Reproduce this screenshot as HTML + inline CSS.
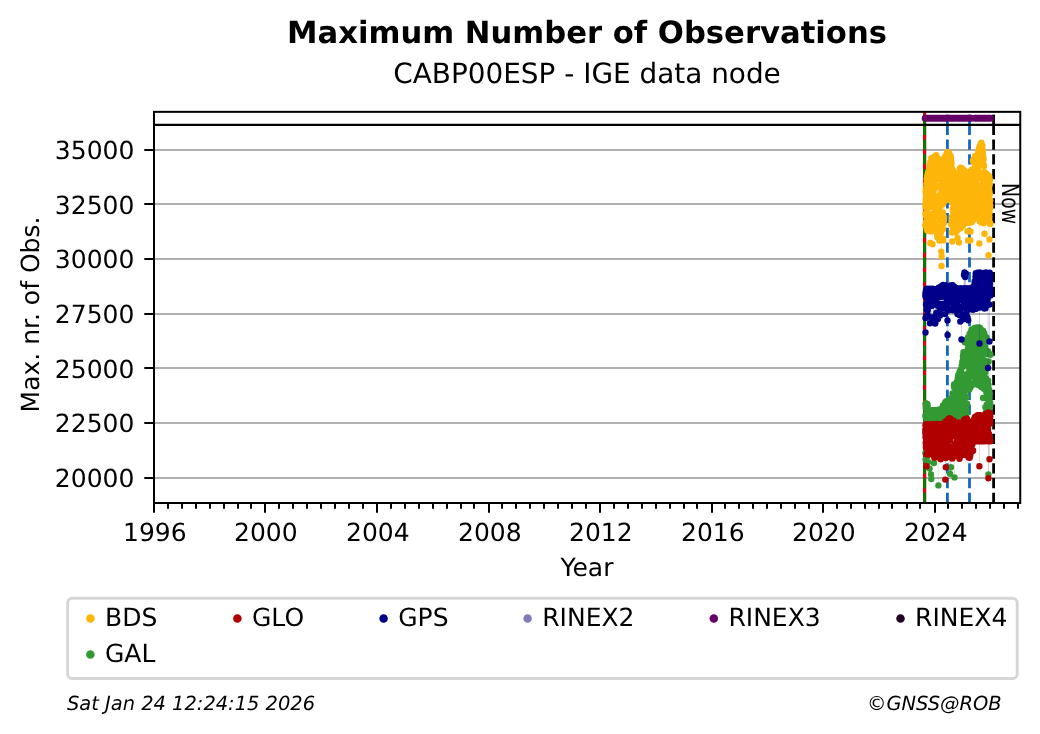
<!DOCTYPE html>
<html lang="en"><head><meta charset="utf-8"><title>Maximum Number of Observations</title>
<style>html,body{margin:0;padding:0;background:#fff}svg{display:block;will-change:transform;text-rendering:geometricPrecision}</style></head>
<body>
<svg width="1040" height="734" viewBox="0 0 1040 734" font-family='"DejaVu Sans","Liberation Sans",sans-serif'>
<rect width="1040" height="734" fill="#fff"/>
<path d="M154.0 150H1020.25M154.0 204H1020.25M154.0 259H1020.25M154.0 314H1020.25M154.0 368H1020.25M154.0 423H1020.25M154.0 478H1020.25" stroke="#b0b0b0" stroke-width="2" fill="none"/>
<path d="M924.6 503.0V124.9" stroke="#e2000f" stroke-width="3.3"  fill="none"/>
<path d="M924.6 124.9V111.85" stroke="#e2000f" stroke-width="3.3"  fill="none"/>
<path d="M924.6 503.0V124.9" stroke="#008000" stroke-width="2.78" stroke-dasharray="10.28 4.44" fill="none"/>
<path d="M924.6 124.9V111.85" stroke="#008000" stroke-width="2.78" stroke-dasharray="10.28 4.44" fill="none"/>
<path d="M947.4 503.0V124.9" stroke="#1266c0" stroke-width="2.78" stroke-dasharray="10.28 4.44" fill="none"/>
<path d="M947.4 124.9V111.85" stroke="#1266c0" stroke-width="2.78" stroke-dasharray="10.28 4.44" fill="none"/>
<path d="M969.5 503.0V124.9" stroke="#1266c0" stroke-width="2.78" stroke-dasharray="10.28 4.44" fill="none"/>
<path d="M969.5 124.9V111.85" stroke="#1266c0" stroke-width="2.78" stroke-dasharray="10.28 4.44" fill="none"/>
<path d="M993.6 503.0V124.9" stroke="#000" stroke-width="2.78" stroke-dasharray="10.28 4.44" fill="none"/>
<path d="M993.6 124.9V111.85" stroke="#000" stroke-width="2.78" stroke-dasharray="10.28 4.44" fill="none"/>
<path d="M925.3 225.5L925.4 206.6L925.5 206.3L925.5 213.9L925.6 191.2L925.7 200.4L925.8 203.3L925.8 188.4L925.9 216.0L926.0 221.7L926.1 194.0L926.1 196.2L926.2 214.0L926.3 199.4L926.4 195.0L926.4 183.8L926.5 204.5L926.6 205.8L926.7 210.2L926.8 179.4L926.8 229.4L926.9 214.9L927.0 193.2L927.1 230.3L927.1 215.2L927.2 176.1L927.3 177.2L927.4 175.8L927.4 207.6L927.5 188.6L927.6 174.7L927.7 221.5L927.7 175.9L927.8 201.4L927.9 173.7L928.0 175.1L928.1 172.6L928.1 224.9L928.2 230.0L928.3 206.0L928.4 223.6L928.4 199.5L928.5 215.0L928.6 177.4L928.7 170.8L928.7 170.9L928.8 184.2L928.9 230.6L929.0 222.9L929.0 186.0L929.1 231.0L929.2 219.6L929.3 205.8L929.3 206.2L929.4 192.7L929.5 182.2L929.6 165.3L929.7 194.6L929.7 189.9L929.8 228.2L929.9 191.9L930.0 164.0L930.0 168.8L930.1 228.9L930.2 194.4L930.3 243.0L930.3 162.1L930.4 163.0L930.5 165.0L930.6 163.6L930.6 226.2L930.7 192.3L930.8 195.3L930.9 229.4L931.0 231.4L931.0 204.4L931.1 206.8L931.2 220.3L931.3 192.0L931.3 158.3L931.4 194.1L931.5 221.4L931.6 214.3L931.6 162.7L931.7 172.9L931.8 162.6L931.9 169.1L931.9 225.5L932.0 227.0L932.1 227.0L932.2 219.6L932.3 220.3L932.3 198.3L932.4 187.9L932.5 244.3L932.6 177.6L932.6 227.5L932.7 223.8L932.8 191.6L932.9 170.8L932.9 158.9L933.0 189.7L933.1 202.3L933.2 159.9L933.2 190.3L933.3 166.8L933.4 225.7L933.5 206.5L933.6 226.4L933.6 190.7L933.7 176.9L933.8 195.2L933.9 223.0L933.9 217.7L934.0 158.4L934.1 182.5L934.2 186.2L934.2 170.2L934.3 158.8L934.4 227.3L934.5 156.5L934.5 157.3L934.6 201.4L934.7 196.1L934.8 186.4L934.9 214.4L934.9 212.7L935.0 208.1L935.1 223.7L935.2 209.6L935.2 170.0L935.3 167.8L935.4 161.8L935.5 186.8L935.5 158.8L935.6 158.2L935.7 165.3L935.8 155.6L935.8 156.1L935.9 172.8L936.0 157.0L936.1 196.5L936.1 169.0L936.2 155.2L936.3 156.2L936.4 156.7L936.5 165.3L936.5 157.5L936.6 165.4L936.7 158.3L936.8 168.7L936.8 157.6L936.9 159.2L937.0 208.9L937.1 232.8L937.1 234.6L937.2 158.8L937.3 211.0L937.4 236.9L937.4 237.3L937.5 169.7L937.6 203.0L937.7 236.9L937.8 160.3L937.8 200.9L937.9 235.1L938.0 177.3L938.1 213.0L938.1 161.1L938.2 158.6L938.3 158.8L938.4 186.2L938.4 187.0L938.5 229.2L938.6 165.7L938.7 179.2L938.7 228.1L938.8 226.9L938.9 163.7L939.0 209.3L939.1 178.6L939.1 206.7L939.2 211.4L939.3 240.6L939.4 216.9L939.4 163.6L939.5 163.9L939.6 203.1L939.7 187.4L939.7 235.0L939.8 220.3L939.9 173.9L940.0 230.7L940.0 175.7L940.1 167.4L940.2 238.0L940.3 167.0L940.4 205.4L940.4 233.2L940.5 215.7L940.6 168.1L940.7 219.7L940.7 169.8L940.8 167.6L940.9 167.9L941.0 219.2L941.0 216.9L941.1 232.3L941.2 193.8L941.3 251.7L941.3 172.4L941.4 176.3L941.5 266.0L941.6 256.3L941.7 216.6L941.7 185.1L941.8 176.5L941.9 195.2L942.0 192.9L942.0 220.5L942.1 214.4L942.2 238.5L942.3 214.7L942.3 198.5L942.4 176.5L942.5 192.9L942.6 223.5L942.6 184.3L942.7 194.9L942.8 224.7L942.9 204.1L943.0 182.6L943.0 229.0L943.1 212.8L943.2 218.1L943.3 240.4L943.3 238.6L943.4 201.8L943.5 176.4L943.6 201.6L943.6 191.2L943.7 163.3L943.8 223.1L943.9 202.2L943.9 219.7L944.0 162.0L944.1 217.2L944.2 175.1L944.2 176.5L944.3 158.3L944.4 163.3L944.5 166.6L944.6 168.4L944.6 183.3L944.7 179.1L944.8 196.0L944.9 171.1L944.9 157.2L945.0 166.8L945.1 186.8L945.2 199.4L945.2 198.7L945.3 156.1L945.4 172.9L945.5 199.0L945.5 185.7L945.6 164.6L945.7 178.6L945.8 162.7L945.9 185.8L945.9 176.9L946.0 198.7L946.1 194.2L946.2 162.3L946.2 184.8L946.3 196.5L946.4 166.9L946.5 160.7L946.5 155.9L946.6 177.2L946.7 159.6L946.8 154.2L946.8 153.1L946.9 154.0L947.0 155.0L947.1 174.0L947.2 184.9L947.2 152.0L947.3 152.2L947.4 182.7L947.5 187.7L947.5 176.6L947.6 199.8L947.7 159.0L947.8 158.3L947.8 192.6L947.9 199.8L948.0 188.3L948.1 199.9L948.1 171.8L948.2 181.0L948.3 170.9L948.4 155.5L948.5 167.2L948.5 192.9L948.6 175.9L948.7 172.1L948.8 199.2L948.8 153.8L948.9 153.3L949.0 154.0L949.1 153.3L949.1 193.3L949.2 187.2L949.3 157.1L949.4 154.7L949.4 198.0L949.5 178.0L949.6 157.2L949.7 176.1L949.8 189.4L949.8 184.1L949.9 156.3L950.0 157.1L950.1 178.5L950.1 174.2L950.2 155.6L950.3 189.8L950.4 195.2L950.4 175.8L950.5 168.7L950.6 178.5L950.7 160.3L950.7 156.2L950.8 172.0L950.9 158.0L951.0 178.3L951.0 158.6L951.1 167.8L951.2 176.5L951.3 224.8L951.4 170.8L951.4 162.2L951.5 163.7L951.6 163.6L951.7 167.9L951.7 198.0L951.8 221.1L951.9 232.5L952.0 189.1L952.0 232.6L952.1 232.4L952.2 216.5L952.3 241.5L952.3 173.1L952.4 191.4L952.5 171.2L952.6 176.1L952.7 183.6L952.7 169.9L952.8 208.8L952.9 228.7L953.0 192.0L953.0 203.4L953.1 178.3L953.2 172.9L953.3 190.7L953.3 212.6L953.4 184.2L953.5 172.6L953.6 194.3L953.6 173.2L953.7 186.7L953.8 231.8L953.9 213.7L954.0 174.7L954.0 174.8L954.1 218.2L954.2 204.6L954.3 217.0L954.3 228.7L954.4 208.2L954.5 192.6L954.6 175.8L954.6 177.4L954.7 178.1L954.8 177.0L954.9 187.6L954.9 208.7L955.0 199.1L955.1 205.0L955.2 223.4L955.3 182.9L955.3 187.2L955.4 178.6L955.5 214.2L955.6 206.5L955.6 216.8L955.7 231.7L955.8 232.2L955.9 213.8L955.9 225.4L956.0 182.7L956.1 205.1L956.2 207.4L956.2 182.1L956.3 224.7L956.4 191.4L956.5 217.8L956.6 196.5L956.6 225.6L956.7 230.9L956.8 193.1L956.9 181.7L956.9 185.8L957.0 219.9L957.1 197.1L957.2 183.8L957.2 209.9L957.3 179.3L957.4 180.8L957.5 238.0L957.5 193.4L957.6 178.5L957.7 178.8L957.8 179.0L957.8 176.5L957.9 184.5L958.0 176.3L958.1 181.0L958.2 175.5L958.2 217.7L958.3 201.3L958.4 215.0L958.5 217.4L958.5 179.8L958.6 209.9L958.7 212.0L958.8 211.5L958.8 189.0L958.9 181.5L959.0 242.5L959.1 227.7L959.1 192.7L959.2 211.9L959.3 189.1L959.4 217.7L959.5 215.8L959.5 228.7L959.6 170.6L959.7 169.4L959.8 170.1L959.8 178.0L959.9 168.3L960.0 168.2L960.1 207.6L960.1 228.6L960.2 168.5L960.3 168.9L960.4 194.6L960.4 194.2L960.5 182.6L960.6 167.8L960.7 169.6L960.8 203.7L960.8 225.5L960.9 207.8L961.0 171.8L961.1 189.5L961.1 184.3L961.2 207.9L961.3 201.5L961.4 175.8L961.4 193.9L961.5 167.9L961.6 207.8L961.7 226.9L961.7 169.7L961.8 199.0L961.9 169.7L962.0 216.2L962.1 223.5L962.1 196.5L962.2 221.2L962.3 189.0L962.4 172.8L962.4 170.5L962.5 181.4L962.6 179.6L962.7 193.7L962.7 174.9L962.8 210.2L962.9 223.4L963.0 188.7L963.0 169.1L963.1 201.6L963.2 223.6L963.3 199.2L963.4 171.5L963.4 190.0L963.5 225.0L963.6 170.7L963.7 194.7L963.7 184.3L963.8 170.9L963.9 199.7L964.0 171.8L964.0 191.2L964.1 223.9L964.2 209.3L964.3 174.0L964.3 172.2L964.4 172.5L964.5 172.1L964.6 216.4L964.7 194.0L964.7 171.3L964.8 172.5L964.9 171.3L965.0 172.8L965.0 171.5L965.1 222.1L965.2 183.3L965.3 172.0L965.3 195.1L965.4 221.6L965.5 223.1L965.6 195.3L965.6 201.5L965.7 200.5L965.8 209.9L965.9 205.9L965.9 174.3L966.0 174.2L966.1 187.2L966.2 174.3L966.3 217.7L966.3 203.6L966.4 174.0L966.5 179.8L966.6 178.0L966.6 186.3L966.7 215.3L966.8 176.8L966.9 176.4L966.9 186.9L967.0 188.4L967.1 197.7L967.2 207.4L967.2 194.7L967.3 214.4L967.4 180.1L967.5 231.3L967.6 176.1L967.6 177.2L967.7 201.1L967.8 211.2L967.9 179.8L967.9 176.6L968.0 240.5L968.1 218.3L968.2 187.3L968.2 189.1L968.3 176.9L968.4 222.8L968.5 219.6L968.5 221.4L968.6 218.6L968.7 221.6L968.8 217.9L968.9 195.6L968.9 213.5L969.0 204.0L969.1 220.1L969.2 188.9L969.2 181.9L969.3 208.0L969.4 218.6L969.5 210.2L969.5 184.1L969.6 190.0L969.7 183.3L969.8 220.4L969.8 221.2L969.9 222.3L970.0 215.0L970.1 189.5L970.2 219.4L970.2 220.6L970.3 240.5L970.4 204.7L970.5 220.7L970.5 231.5L970.6 213.6L970.7 183.2L970.8 174.7L970.8 200.8L970.9 205.0L971.0 222.5L971.1 202.5L971.1 196.6L971.2 170.7L971.3 170.8L971.4 171.5L971.5 184.0L971.5 169.9L971.6 211.8L971.7 219.9L971.8 196.9L971.8 221.9L971.9 211.3L972.0 218.6L972.1 195.2L972.1 217.0L972.2 170.1L972.3 202.3L972.4 178.3L972.4 181.1L972.5 205.8L972.6 199.0L972.7 188.7L972.7 210.2L972.8 216.8L972.9 160.8L973.0 194.8L973.1 210.0L973.1 169.3L973.2 194.2L973.3 160.5L973.4 217.4L973.4 189.0L973.5 184.3L973.6 219.7L973.7 193.3L973.7 207.5L973.8 159.2L973.9 159.7L974.0 159.1L974.0 162.7L974.1 210.9L974.2 200.4L974.3 214.7L974.4 161.5L974.4 158.4L974.5 159.1L974.6 194.2L974.7 197.6L974.7 186.6L974.8 202.6L974.9 183.5L975.0 181.4L975.0 214.6L975.1 156.0L975.2 184.8L975.3 211.6L975.3 198.0L975.4 204.5L975.5 169.8L975.6 210.5L975.7 156.1L975.7 157.1L975.8 159.9L975.9 209.2L976.0 199.8L976.0 178.4L976.1 156.3L976.2 179.2L976.3 183.2L976.3 161.1L976.4 159.3L976.5 156.4L976.6 171.9L976.6 187.0L976.7 184.3L976.8 176.7L976.9 156.2L977.0 165.6L977.0 157.4L977.1 170.3L977.2 190.8L977.3 162.7L977.3 157.3L977.4 197.8L977.5 195.2L977.6 164.2L977.6 154.7L977.7 155.4L977.8 188.7L977.9 210.1L977.9 167.9L978.0 155.4L978.1 157.1L978.2 197.2L978.3 152.0L978.3 163.7L978.4 151.5L978.5 175.1L978.6 150.4L978.6 173.6L978.7 159.3L978.8 163.9L978.9 192.0L978.9 215.1L979.0 148.8L979.1 199.9L979.2 204.5L979.2 175.5L979.3 243.5L979.4 201.7L979.5 218.7L979.5 172.7L979.6 146.5L979.7 213.2L979.8 218.6L979.9 220.7L979.9 221.4L980.0 174.6L980.1 149.7L980.2 152.9L980.2 221.7L980.3 145.1L980.4 146.4L980.5 145.8L980.5 155.2L980.6 150.5L980.7 143.8L980.8 148.8L980.8 217.5L980.9 187.8L981.0 145.5L981.1 143.9L981.2 151.8L981.2 177.9L981.3 142.7L981.4 209.7L981.5 217.9L981.5 163.4L981.6 148.0L981.7 201.8L981.8 191.5L981.8 193.2L981.9 148.6L982.0 152.0L982.1 148.5L982.1 148.6L982.2 145.4L982.3 178.9L982.4 223.0L982.5 189.4L982.5 145.8L982.6 222.4L982.7 206.2L982.8 177.3L982.8 154.0L982.9 150.5L983.0 218.0L983.1 183.1L983.1 161.1L983.2 156.6L983.3 223.2L983.4 175.2L983.4 204.0L983.5 199.6L983.6 197.8L983.7 159.1L983.8 201.1L983.8 222.0L983.9 203.5L984.0 165.2L984.1 166.1L984.1 182.6L984.2 181.4L984.3 186.7L984.4 192.4L984.4 172.3L984.5 233.8L984.6 203.8L984.7 195.3L984.7 201.3L984.8 219.2L984.9 204.5L985.0 175.3L985.1 218.2L985.1 190.6L985.2 174.9L985.3 172.9L985.4 180.6L985.4 174.0L985.5 172.9L985.6 200.2L985.7 197.5L985.7 220.0L985.8 211.4L985.9 189.1L986.0 184.4L986.0 178.8L986.1 207.6L986.2 199.6L986.3 185.4L986.4 214.1L986.4 204.0L986.5 185.4L986.6 174.0L986.7 194.1L986.7 201.6L986.8 198.7L986.9 184.9L987.0 174.3L987.0 182.1L987.1 197.7L987.2 192.8L987.3 190.9L987.3 182.1L987.4 200.7L987.5 203.5L987.6 178.9L987.6 210.3L987.7 218.6L987.8 220.9L987.9 201.3L988.0 192.4L988.0 176.8L988.1 206.4L988.2 177.1L988.3 176.5L988.3 180.1L988.4 212.8L988.5 255.3L988.6 175.8L988.6 176.2L988.7 175.6L988.8 189.4L988.9 195.7L988.9 191.1L989.0 178.6L989.1 185.7L989.2 217.0L989.3 177.5L989.3 191.6L989.4 222.7L989.5 239.4L989.6 193.9L989.6 212.3L989.7 184.5L989.8 194.0L989.9 223.8L989.9 222.7L990.0 180.1L990.1 208.0L990.2 223.3L990.2 200.7L990.3 205.7L990.4 223.8" stroke="#fdb50a" stroke-width="0.7" stroke-opacity="0.13" fill="none"/>
<path d="M925.3 225.5h0M925.4 206.6h0M925.5 206.3h0M925.5 213.9h0M925.6 191.2h0M925.7 200.4h0M925.8 203.3h0M925.8 188.4h0M925.9 216.0h0M926.0 221.7h0M926.1 194.0h0M926.1 196.2h0M926.2 214.0h0M926.3 199.4h0M926.4 195.0h0M926.4 183.8h0M926.5 204.5h0M926.6 205.8h0M926.7 210.2h0M926.8 179.4h0M926.8 229.4h0M926.9 214.9h0M927.0 193.2h0M927.1 230.3h0M927.1 215.2h0M927.2 176.1h0M927.3 177.2h0M927.4 175.8h0M927.4 207.6h0M927.5 188.6h0M927.6 174.7h0M927.7 221.5h0M927.7 175.9h0M927.8 201.4h0M927.9 173.7h0M928.0 175.1h0M928.1 172.6h0M928.1 224.9h0M928.2 230.0h0M928.3 206.0h0M928.4 223.6h0M928.4 199.5h0M928.5 215.0h0M928.6 177.4h0M928.7 170.8h0M928.7 170.9h0M928.8 184.2h0M928.9 230.6h0M929.0 222.9h0M929.0 186.0h0M929.1 231.0h0M929.2 219.6h0M929.3 205.8h0M929.3 206.2h0M929.4 192.7h0M929.5 182.2h0M929.6 165.3h0M929.7 194.6h0M929.7 189.9h0M929.8 228.2h0M929.9 191.9h0M930.0 164.0h0M930.0 168.8h0M930.1 228.9h0M930.2 194.4h0M930.3 243.0h0M930.3 162.1h0M930.4 163.0h0M930.5 165.0h0M930.6 163.6h0M930.6 226.2h0M930.7 192.3h0M930.8 195.3h0M930.9 229.4h0M931.0 231.4h0M931.0 204.4h0M931.1 206.8h0M931.2 220.3h0M931.3 192.0h0M931.3 158.3h0M931.4 194.1h0M931.5 221.4h0M931.6 214.3h0M931.6 162.7h0M931.7 172.9h0M931.8 162.6h0M931.9 169.1h0M931.9 225.5h0M932.0 227.0h0M932.1 227.0h0M932.2 219.6h0M932.3 220.3h0M932.3 198.3h0M932.4 187.9h0M932.5 244.3h0M932.6 177.6h0M932.6 227.5h0M932.7 223.8h0M932.8 191.6h0M932.9 170.8h0M932.9 158.9h0M933.0 189.7h0M933.1 202.3h0M933.2 159.9h0M933.2 190.3h0M933.3 166.8h0M933.4 225.7h0M933.5 206.5h0M933.6 226.4h0M933.6 190.7h0M933.7 176.9h0M933.8 195.2h0M933.9 223.0h0M933.9 217.7h0M934.0 158.4h0M934.1 182.5h0M934.2 186.2h0M934.2 170.2h0M934.3 158.8h0M934.4 227.3h0M934.5 156.5h0M934.5 157.3h0M934.6 201.4h0M934.7 196.1h0M934.8 186.4h0M934.9 214.4h0M934.9 212.7h0M935.0 208.1h0M935.1 223.7h0M935.2 209.6h0M935.2 170.0h0M935.3 167.8h0M935.4 161.8h0M935.5 186.8h0M935.5 158.8h0M935.6 158.2h0M935.7 165.3h0M935.8 155.6h0M935.8 156.1h0M935.9 172.8h0M936.0 157.0h0M936.1 196.5h0M936.1 169.0h0M936.2 155.2h0M936.3 156.2h0M936.4 156.7h0M936.5 165.3h0M936.5 157.5h0M936.6 165.4h0M936.7 158.3h0M936.8 168.7h0M936.8 157.6h0M936.9 159.2h0M937.0 208.9h0M937.1 232.8h0M937.1 234.6h0M937.2 158.8h0M937.3 211.0h0M937.4 236.9h0M937.4 237.3h0M937.5 169.7h0M937.6 203.0h0M937.7 236.9h0M937.8 160.3h0M937.8 200.9h0M937.9 235.1h0M938.0 177.3h0M938.1 213.0h0M938.1 161.1h0M938.2 158.6h0M938.3 158.8h0M938.4 186.2h0M938.4 187.0h0M938.5 229.2h0M938.6 165.7h0M938.7 179.2h0M938.7 228.1h0M938.8 226.9h0M938.9 163.7h0M939.0 209.3h0M939.1 178.6h0M939.1 206.7h0M939.2 211.4h0M939.3 240.6h0M939.4 216.9h0M939.4 163.6h0M939.5 163.9h0M939.6 203.1h0M939.7 187.4h0M939.7 235.0h0M939.8 220.3h0M939.9 173.9h0M940.0 230.7h0M940.0 175.7h0M940.1 167.4h0M940.2 238.0h0M940.3 167.0h0M940.4 205.4h0M940.4 233.2h0M940.5 215.7h0M940.6 168.1h0M940.7 219.7h0M940.7 169.8h0M940.8 167.6h0M940.9 167.9h0M941.0 219.2h0M941.0 216.9h0M941.1 232.3h0M941.2 193.8h0M941.3 251.7h0M941.3 172.4h0M941.4 176.3h0M941.5 266.0h0M941.6 256.3h0M941.7 216.6h0M941.7 185.1h0M941.8 176.5h0M941.9 195.2h0M942.0 192.9h0M942.0 220.5h0M942.1 214.4h0M942.2 238.5h0M942.3 214.7h0M942.3 198.5h0M942.4 176.5h0M942.5 192.9h0M942.6 223.5h0M942.6 184.3h0M942.7 194.9h0M942.8 224.7h0M942.9 204.1h0M943.0 182.6h0M943.0 229.0h0M943.1 212.8h0M943.2 218.1h0M943.3 240.4h0M943.3 238.6h0M943.4 201.8h0M943.5 176.4h0M943.6 201.6h0M943.6 191.2h0M943.7 163.3h0M943.8 223.1h0M943.9 202.2h0M943.9 219.7h0M944.0 162.0h0M944.1 217.2h0M944.2 175.1h0M944.2 176.5h0M944.3 158.3h0M944.4 163.3h0M944.5 166.6h0M944.6 168.4h0M944.6 183.3h0M944.7 179.1h0M944.8 196.0h0M944.9 171.1h0M944.9 157.2h0M945.0 166.8h0M945.1 186.8h0M945.2 199.4h0M945.2 198.7h0M945.3 156.1h0M945.4 172.9h0M945.5 199.0h0M945.5 185.7h0M945.6 164.6h0M945.7 178.6h0M945.8 162.7h0M945.9 185.8h0M945.9 176.9h0M946.0 198.7h0M946.1 194.2h0M946.2 162.3h0M946.2 184.8h0M946.3 196.5h0M946.4 166.9h0M946.5 160.7h0M946.5 155.9h0M946.6 177.2h0M946.7 159.6h0M946.8 154.2h0M946.8 153.1h0M946.9 154.0h0M947.0 155.0h0M947.1 174.0h0M947.2 184.9h0M947.2 152.0h0M947.3 152.2h0M947.4 182.7h0M947.5 187.7h0M947.5 176.6h0M947.6 199.8h0M947.7 159.0h0M947.8 158.3h0M947.8 192.6h0M947.9 199.8h0M948.0 188.3h0M948.1 199.9h0M948.1 171.8h0M948.2 181.0h0M948.3 170.9h0M948.4 155.5h0M948.5 167.2h0M948.5 192.9h0M948.6 175.9h0M948.7 172.1h0M948.8 199.2h0M948.8 153.8h0M948.9 153.3h0M949.0 154.0h0M949.1 153.3h0M949.1 193.3h0M949.2 187.2h0M949.3 157.1h0M949.4 154.7h0M949.4 198.0h0M949.5 178.0h0M949.6 157.2h0M949.7 176.1h0M949.8 189.4h0M949.8 184.1h0M949.9 156.3h0M950.0 157.1h0M950.1 178.5h0M950.1 174.2h0M950.2 155.6h0M950.3 189.8h0M950.4 195.2h0M950.4 175.8h0M950.5 168.7h0M950.6 178.5h0M950.7 160.3h0M950.7 156.2h0M950.8 172.0h0M950.9 158.0h0M951.0 178.3h0M951.0 158.6h0M951.1 167.8h0M951.2 176.5h0M951.3 224.8h0M951.4 170.8h0M951.4 162.2h0M951.5 163.7h0M951.6 163.6h0M951.7 167.9h0M951.7 198.0h0M951.8 221.1h0M951.9 232.5h0M952.0 189.1h0M952.0 232.6h0M952.1 232.4h0M952.2 216.5h0M952.3 241.5h0M952.3 173.1h0M952.4 191.4h0M952.5 171.2h0M952.6 176.1h0M952.7 183.6h0M952.7 169.9h0M952.8 208.8h0M952.9 228.7h0M953.0 192.0h0M953.0 203.4h0M953.1 178.3h0M953.2 172.9h0M953.3 190.7h0M953.3 212.6h0M953.4 184.2h0M953.5 172.6h0M953.6 194.3h0M953.6 173.2h0M953.7 186.7h0M953.8 231.8h0M953.9 213.7h0M954.0 174.7h0M954.0 174.8h0M954.1 218.2h0M954.2 204.6h0M954.3 217.0h0M954.3 228.7h0M954.4 208.2h0M954.5 192.6h0M954.6 175.8h0M954.6 177.4h0M954.7 178.1h0M954.8 177.0h0M954.9 187.6h0M954.9 208.7h0M955.0 199.1h0M955.1 205.0h0M955.2 223.4h0M955.3 182.9h0M955.3 187.2h0M955.4 178.6h0M955.5 214.2h0M955.6 206.5h0M955.6 216.8h0M955.7 231.7h0M955.8 232.2h0M955.9 213.8h0M955.9 225.4h0M956.0 182.7h0M956.1 205.1h0M956.2 207.4h0M956.2 182.1h0M956.3 224.7h0M956.4 191.4h0M956.5 217.8h0M956.6 196.5h0M956.6 225.6h0M956.7 230.9h0M956.8 193.1h0M956.9 181.7h0M956.9 185.8h0M957.0 219.9h0M957.1 197.1h0M957.2 183.8h0M957.2 209.9h0M957.3 179.3h0M957.4 180.8h0M957.5 238.0h0M957.5 193.4h0M957.6 178.5h0M957.7 178.8h0M957.8 179.0h0M957.8 176.5h0M957.9 184.5h0M958.0 176.3h0M958.1 181.0h0M958.2 175.5h0M958.2 217.7h0M958.3 201.3h0M958.4 215.0h0M958.5 217.4h0M958.5 179.8h0M958.6 209.9h0M958.7 212.0h0M958.8 211.5h0M958.8 189.0h0M958.9 181.5h0M959.0 242.5h0M959.1 227.7h0M959.1 192.7h0M959.2 211.9h0M959.3 189.1h0M959.4 217.7h0M959.5 215.8h0M959.5 228.7h0M959.6 170.6h0M959.7 169.4h0M959.8 170.1h0M959.8 178.0h0M959.9 168.3h0M960.0 168.2h0M960.1 207.6h0M960.1 228.6h0M960.2 168.5h0M960.3 168.9h0M960.4 194.6h0M960.4 194.2h0M960.5 182.6h0M960.6 167.8h0M960.7 169.6h0M960.8 203.7h0M960.8 225.5h0M960.9 207.8h0M961.0 171.8h0M961.1 189.5h0M961.1 184.3h0M961.2 207.9h0M961.3 201.5h0M961.4 175.8h0M961.4 193.9h0M961.5 167.9h0M961.6 207.8h0M961.7 226.9h0M961.7 169.7h0M961.8 199.0h0M961.9 169.7h0M962.0 216.2h0M962.1 223.5h0M962.1 196.5h0M962.2 221.2h0M962.3 189.0h0M962.4 172.8h0M962.4 170.5h0M962.5 181.4h0M962.6 179.6h0M962.7 193.7h0M962.7 174.9h0M962.8 210.2h0M962.9 223.4h0M963.0 188.7h0M963.0 169.1h0M963.1 201.6h0M963.2 223.6h0M963.3 199.2h0M963.4 171.5h0M963.4 190.0h0M963.5 225.0h0M963.6 170.7h0M963.7 194.7h0M963.7 184.3h0M963.8 170.9h0M963.9 199.7h0M964.0 171.8h0M964.0 191.2h0M964.1 223.9h0M964.2 209.3h0M964.3 174.0h0M964.3 172.2h0M964.4 172.5h0M964.5 172.1h0M964.6 216.4h0M964.7 194.0h0M964.7 171.3h0M964.8 172.5h0M964.9 171.3h0M965.0 172.8h0M965.0 171.5h0M965.1 222.1h0M965.2 183.3h0M965.3 172.0h0M965.3 195.1h0M965.4 221.6h0M965.5 223.1h0M965.6 195.3h0M965.6 201.5h0M965.7 200.5h0M965.8 209.9h0M965.9 205.9h0M965.9 174.3h0M966.0 174.2h0M966.1 187.2h0M966.2 174.3h0M966.3 217.7h0M966.3 203.6h0M966.4 174.0h0M966.5 179.8h0M966.6 178.0h0M966.6 186.3h0M966.7 215.3h0M966.8 176.8h0M966.9 176.4h0M966.9 186.9h0M967.0 188.4h0M967.1 197.7h0M967.2 207.4h0M967.2 194.7h0M967.3 214.4h0M967.4 180.1h0M967.5 231.3h0M967.6 176.1h0M967.6 177.2h0M967.7 201.1h0M967.8 211.2h0M967.9 179.8h0M967.9 176.6h0M968.0 240.5h0M968.1 218.3h0M968.2 187.3h0M968.2 189.1h0M968.3 176.9h0M968.4 222.8h0M968.5 219.6h0M968.5 221.4h0M968.6 218.6h0M968.7 221.6h0M968.8 217.9h0M968.9 195.6h0M968.9 213.5h0M969.0 204.0h0M969.1 220.1h0M969.2 188.9h0M969.2 181.9h0M969.3 208.0h0M969.4 218.6h0M969.5 210.2h0M969.5 184.1h0M969.6 190.0h0M969.7 183.3h0M969.8 220.4h0M969.8 221.2h0M969.9 222.3h0M970.0 215.0h0M970.1 189.5h0M970.2 219.4h0M970.2 220.6h0M970.3 240.5h0M970.4 204.7h0M970.5 220.7h0M970.5 231.5h0M970.6 213.6h0M970.7 183.2h0M970.8 174.7h0M970.8 200.8h0M970.9 205.0h0M971.0 222.5h0M971.1 202.5h0M971.1 196.6h0M971.2 170.7h0M971.3 170.8h0M971.4 171.5h0M971.5 184.0h0M971.5 169.9h0M971.6 211.8h0M971.7 219.9h0M971.8 196.9h0M971.8 221.9h0M971.9 211.3h0M972.0 218.6h0M972.1 195.2h0M972.1 217.0h0M972.2 170.1h0M972.3 202.3h0M972.4 178.3h0M972.4 181.1h0M972.5 205.8h0M972.6 199.0h0M972.7 188.7h0M972.7 210.2h0M972.8 216.8h0M972.9 160.8h0M973.0 194.8h0M973.1 210.0h0M973.1 169.3h0M973.2 194.2h0M973.3 160.5h0M973.4 217.4h0M973.4 189.0h0M973.5 184.3h0M973.6 219.7h0M973.7 193.3h0M973.7 207.5h0M973.8 159.2h0M973.9 159.7h0M974.0 159.1h0M974.0 162.7h0M974.1 210.9h0M974.2 200.4h0M974.3 214.7h0M974.4 161.5h0M974.4 158.4h0M974.5 159.1h0M974.6 194.2h0M974.7 197.6h0M974.7 186.6h0M974.8 202.6h0M974.9 183.5h0M975.0 181.4h0M975.0 214.6h0M975.1 156.0h0M975.2 184.8h0M975.3 211.6h0M975.3 198.0h0M975.4 204.5h0M975.5 169.8h0M975.6 210.5h0M975.7 156.1h0M975.7 157.1h0M975.8 159.9h0M975.9 209.2h0M976.0 199.8h0M976.0 178.4h0M976.1 156.3h0M976.2 179.2h0M976.3 183.2h0M976.3 161.1h0M976.4 159.3h0M976.5 156.4h0M976.6 171.9h0M976.6 187.0h0M976.7 184.3h0M976.8 176.7h0M976.9 156.2h0M977.0 165.6h0M977.0 157.4h0M977.1 170.3h0M977.2 190.8h0M977.3 162.7h0M977.3 157.3h0M977.4 197.8h0M977.5 195.2h0M977.6 164.2h0M977.6 154.7h0M977.7 155.4h0M977.8 188.7h0M977.9 210.1h0M977.9 167.9h0M978.0 155.4h0M978.1 157.1h0M978.2 197.2h0M978.3 152.0h0M978.3 163.7h0M978.4 151.5h0M978.5 175.1h0M978.6 150.4h0M978.6 173.6h0M978.7 159.3h0M978.8 163.9h0M978.9 192.0h0M978.9 215.1h0M979.0 148.8h0M979.1 199.9h0M979.2 204.5h0M979.2 175.5h0M979.3 243.5h0M979.4 201.7h0M979.5 218.7h0M979.5 172.7h0M979.6 146.5h0M979.7 213.2h0M979.8 218.6h0M979.9 220.7h0M979.9 221.4h0M980.0 174.6h0M980.1 149.7h0M980.2 152.9h0M980.2 221.7h0M980.3 145.1h0M980.4 146.4h0M980.5 145.8h0M980.5 155.2h0M980.6 150.5h0M980.7 143.8h0M980.8 148.8h0M980.8 217.5h0M980.9 187.8h0M981.0 145.5h0M981.1 143.9h0M981.2 151.8h0M981.2 177.9h0M981.3 142.7h0M981.4 209.7h0M981.5 217.9h0M981.5 163.4h0M981.6 148.0h0M981.7 201.8h0M981.8 191.5h0M981.8 193.2h0M981.9 148.6h0M982.0 152.0h0M982.1 148.5h0M982.1 148.6h0M982.2 145.4h0M982.3 178.9h0M982.4 223.0h0M982.5 189.4h0M982.5 145.8h0M982.6 222.4h0M982.7 206.2h0M982.8 177.3h0M982.8 154.0h0M982.9 150.5h0M983.0 218.0h0M983.1 183.1h0M983.1 161.1h0M983.2 156.6h0M983.3 223.2h0M983.4 175.2h0M983.4 204.0h0M983.5 199.6h0M983.6 197.8h0M983.7 159.1h0M983.8 201.1h0M983.8 222.0h0M983.9 203.5h0M984.0 165.2h0M984.1 166.1h0M984.1 182.6h0M984.2 181.4h0M984.3 186.7h0M984.4 192.4h0M984.4 172.3h0M984.5 233.8h0M984.6 203.8h0M984.7 195.3h0M984.7 201.3h0M984.8 219.2h0M984.9 204.5h0M985.0 175.3h0M985.1 218.2h0M985.1 190.6h0M985.2 174.9h0M985.3 172.9h0M985.4 180.6h0M985.4 174.0h0M985.5 172.9h0M985.6 200.2h0M985.7 197.5h0M985.7 220.0h0M985.8 211.4h0M985.9 189.1h0M986.0 184.4h0M986.0 178.8h0M986.1 207.6h0M986.2 199.6h0M986.3 185.4h0M986.4 214.1h0M986.4 204.0h0M986.5 185.4h0M986.6 174.0h0M986.7 194.1h0M986.7 201.6h0M986.8 198.7h0M986.9 184.9h0M987.0 174.3h0M987.0 182.1h0M987.1 197.7h0M987.2 192.8h0M987.3 190.9h0M987.3 182.1h0M987.4 200.7h0M987.5 203.5h0M987.6 178.9h0M987.6 210.3h0M987.7 218.6h0M987.8 220.9h0M987.9 201.3h0M988.0 192.4h0M988.0 176.8h0M988.1 206.4h0M988.2 177.1h0M988.3 176.5h0M988.3 180.1h0M988.4 212.8h0M988.5 255.3h0M988.6 175.8h0M988.6 176.2h0M988.7 175.6h0M988.8 189.4h0M988.9 195.7h0M988.9 191.1h0M989.0 178.6h0M989.1 185.7h0M989.2 217.0h0M989.3 177.5h0M989.3 191.6h0M989.4 222.7h0M989.5 239.4h0M989.6 193.9h0M989.6 212.3h0M989.7 184.5h0M989.8 194.0h0M989.9 223.8h0M989.9 222.7h0M990.0 180.1h0M990.1 208.0h0M990.2 223.3h0M990.2 200.7h0M990.3 205.7h0M990.4 223.8h0" stroke="#fdb50a" stroke-width="6.4" stroke-linecap="round" fill="none"/>
<path d="M925.3 415.8L925.4 453.0L925.5 430.1L925.5 403.7L925.6 459.5L925.7 405.2L925.8 407.8L925.8 405.1L925.9 417.4L926.0 403.3L926.1 404.1L926.1 404.5L926.2 428.2L926.3 406.9L926.4 403.9L926.4 403.8L926.5 404.0L926.6 404.5L926.7 418.9L926.8 421.9L926.8 425.8L926.9 412.3L927.0 457.0L927.1 435.1L927.1 427.5L927.2 428.2L927.3 404.0L927.4 412.8L927.4 420.2L927.5 437.4L927.6 405.2L927.7 407.2L927.7 409.7L927.8 416.0L927.9 408.9L928.0 462.0L928.1 429.6L928.1 425.9L928.2 419.0L928.3 417.0L928.4 413.9L928.4 418.3L928.5 411.0L928.6 410.7L928.7 424.3L928.7 411.9L928.8 412.5L928.9 411.8L929.0 411.7L929.0 411.4L929.1 411.9L929.2 411.3L929.3 411.1L929.3 413.6L929.4 434.4L929.5 432.8L929.6 468.6L929.7 412.0L929.7 415.5L929.8 424.6L929.9 414.6L930.0 430.0L930.0 425.4L930.1 428.2L930.2 418.2L930.3 413.6L930.3 420.3L930.4 426.1L930.5 428.4L930.6 412.0L930.6 411.2L930.7 413.9L930.8 411.4L930.9 420.9L931.0 425.4L931.0 474.4L931.1 413.3L931.2 428.1L931.3 420.9L931.3 479.0L931.4 436.7L931.5 411.0L931.6 425.4L931.6 416.1L931.7 412.1L931.8 413.3L931.9 415.3L931.9 421.4L932.0 431.1L932.1 431.8L932.2 416.8L932.3 412.1L932.3 410.3L932.4 415.2L932.5 429.5L932.6 437.2L932.6 416.9L932.7 419.8L932.8 417.1L932.9 413.7L932.9 418.8L933.0 416.4L933.1 415.0L933.2 410.7L933.2 420.0L933.3 433.6L933.4 438.7L933.5 427.9L933.6 410.8L933.6 412.2L933.7 410.5L933.8 426.5L933.9 412.8L933.9 417.3L934.0 463.0L934.1 410.1L934.2 415.7L934.2 436.2L934.3 420.1L934.4 425.3L934.5 410.1L934.5 411.0L934.6 410.2L934.7 410.9L934.8 416.3L934.9 426.8L934.9 410.8L935.0 418.1L935.1 410.7L935.2 435.1L935.2 432.1L935.3 428.4L935.4 421.9L935.5 420.5L935.5 420.3L935.6 411.5L935.7 425.6L935.8 426.4L935.8 432.5L935.9 425.9L936.0 431.6L936.1 415.8L936.1 438.2L936.2 432.6L936.3 420.6L936.4 432.5L936.5 438.3L936.5 420.8L936.6 410.7L936.7 410.1L936.8 410.2L936.8 409.9L936.9 412.6L937.0 426.4L937.1 435.5L937.1 420.5L937.2 427.4L937.3 434.1L937.4 437.4L937.4 430.6L937.5 415.4L937.6 427.6L937.7 438.1L937.8 424.8L937.8 437.7L937.9 436.6L938.0 433.6L938.1 410.1L938.1 409.7L938.2 410.1L938.3 420.7L938.4 485.4L938.4 437.3L938.5 436.2L938.6 430.6L938.7 411.0L938.7 410.0L938.8 419.2L938.9 435.3L939.0 435.6L939.1 426.0L939.1 410.0L939.2 414.7L939.3 428.3L939.4 419.6L939.4 423.2L939.5 424.0L939.6 418.3L939.7 410.3L939.7 415.9L939.8 409.6L939.9 427.7L940.0 411.8L940.0 421.9L940.1 411.2L940.2 420.0L940.3 416.7L940.4 425.2L940.4 411.9L940.5 410.3L940.6 409.2L940.7 409.5L940.7 410.3L940.8 409.3L940.9 409.2L941.0 410.1L941.0 409.2L941.1 413.0L941.2 436.7L941.3 434.9L941.3 432.2L941.4 433.2L941.5 424.9L941.6 414.0L941.7 428.1L941.7 435.0L941.8 409.5L941.9 408.5L942.0 408.5L942.0 408.3L942.1 427.9L942.2 415.4L942.3 428.5L942.3 415.4L942.4 410.8L942.5 424.4L942.6 410.3L942.6 411.3L942.7 406.5L942.8 406.2L942.9 415.9L943.0 425.0L943.0 405.4L943.1 406.8L943.2 437.2L943.3 419.5L943.3 405.3L943.4 417.8L943.5 405.5L943.6 405.2L943.6 423.7L943.7 433.2L943.8 422.0L943.9 435.8L943.9 425.0L944.0 415.9L944.1 415.2L944.2 410.0L944.2 420.8L944.3 422.2L944.4 406.2L944.5 412.9L944.6 405.4L944.6 404.5L944.7 405.5L944.8 426.1L944.9 424.7L944.9 435.8L945.0 436.5L945.1 431.5L945.2 413.5L945.2 402.2L945.3 411.9L945.4 426.9L945.5 436.7L945.5 408.7L945.6 426.3L945.7 434.6L945.8 435.6L945.9 437.0L945.9 427.5L946.0 401.6L946.1 401.8L946.2 402.8L946.2 401.9L946.3 401.3L946.4 401.3L946.5 402.3L946.5 409.0L946.6 424.0L946.7 417.2L946.8 431.5L946.8 436.1L946.9 402.6L947.0 403.5L947.1 401.8L947.2 401.6L947.2 402.4L947.3 405.5L947.4 432.2L947.5 436.5L947.5 436.8L947.6 424.8L947.7 416.6L947.8 414.7L947.8 423.7L947.9 406.0L948.0 455.0L948.1 412.1L948.1 429.7L948.2 435.3L948.3 436.3L948.4 431.6L948.5 401.1L948.5 400.2L948.6 401.5L948.7 400.6L948.8 399.9L948.8 401.3L948.9 400.9L949.0 409.3L949.1 435.2L949.1 424.9L949.2 424.5L949.3 400.1L949.4 405.8L949.4 399.9L949.5 400.4L949.6 400.3L949.7 418.2L949.8 400.2L949.8 402.1L949.9 400.6L950.0 473.7L950.1 416.8L950.1 417.0L950.2 400.9L950.3 419.9L950.4 420.0L950.4 399.8L950.5 429.1L950.6 416.0L950.7 429.8L950.7 399.7L950.8 400.6L950.9 401.4L951.0 467.3L951.0 419.0L951.1 400.0L951.2 404.1L951.3 400.9L951.4 411.2L951.4 416.0L951.5 405.4L951.6 436.1L951.7 428.8L951.7 435.3L951.8 404.5L951.9 406.8L952.0 411.6L952.0 414.7L952.1 407.1L952.2 396.9L952.3 396.8L952.3 398.1L952.4 396.5L952.5 393.5L952.6 413.3L952.7 435.8L952.7 434.7L952.8 435.9L952.9 434.9L953.0 434.4L953.0 432.4L953.1 415.2L953.2 402.6L953.3 412.0L953.3 432.9L953.4 434.8L953.5 435.6L953.6 404.1L953.6 411.2L953.7 417.7L953.8 423.3L953.9 386.0L954.0 386.7L954.0 385.5L954.1 384.5L954.2 432.2L954.3 425.2L954.3 387.5L954.4 404.0L954.5 477.4L954.6 405.3L954.6 394.1L954.7 384.4L954.8 384.6L954.9 406.6L954.9 413.3L955.0 433.1L955.1 395.6L955.2 424.8L955.3 417.0L955.3 415.8L955.4 434.1L955.5 419.6L955.6 418.7L955.6 426.1L955.7 429.4L955.8 433.1L955.9 434.0L955.9 434.9L956.0 413.3L956.1 435.3L956.2 432.1L956.2 428.2L956.3 399.2L956.4 382.4L956.5 383.2L956.6 383.7L956.6 407.5L956.7 407.0L956.8 424.8L956.9 433.8L956.9 435.4L957.0 451.0L957.1 417.6L957.2 405.5L957.2 382.5L957.3 427.8L957.4 384.5L957.5 391.7L957.5 403.8L957.6 379.3L957.7 394.3L957.8 389.0L957.8 402.2L957.9 393.1L958.0 376.6L958.1 384.4L958.2 396.0L958.2 425.1L958.3 425.7L958.4 374.6L958.5 415.6L958.5 427.9L958.6 432.0L958.7 429.4L958.8 397.0L958.8 414.5L958.9 397.0L959.0 431.9L959.1 430.0L959.1 385.2L959.2 382.9L959.3 429.4L959.4 400.5L959.5 372.0L959.5 407.8L959.6 413.6L959.7 391.9L959.8 417.0L959.8 381.0L959.9 371.3L960.0 406.2L960.1 387.1L960.1 409.5L960.2 404.9L960.3 424.7L960.4 416.1L960.4 371.2L960.5 392.8L960.6 381.4L960.7 416.4L960.8 411.2L960.8 434.2L960.9 413.6L961.0 371.5L961.1 369.2L961.1 395.1L961.2 385.7L961.3 377.6L961.4 428.0L961.4 410.6L961.5 429.9L961.6 420.0L961.7 366.9L961.7 367.1L961.8 365.4L961.9 388.9L962.0 367.4L962.1 364.7L962.1 365.4L962.2 366.0L962.3 362.2L962.4 361.5L962.4 426.8L962.5 420.0L962.6 379.2L962.7 385.2L962.7 431.8L962.8 430.3L962.9 411.4L963.0 357.2L963.0 356.0L963.1 357.3L963.2 360.6L963.3 355.9L963.4 354.1L963.4 354.0L963.5 352.3L963.6 352.5L963.7 353.5L963.7 377.5L963.8 394.3L963.9 423.0L964.0 427.8L964.0 431.0L964.1 411.5L964.2 429.8L964.3 427.2L964.3 430.9L964.4 398.4L964.5 406.0L964.6 341.8L964.7 342.3L964.7 340.1L964.8 340.9L964.9 383.2L965.0 383.1L965.0 428.9L965.1 413.5L965.2 402.7L965.3 379.4L965.3 402.6L965.4 391.0L965.5 426.5L965.6 429.2L965.6 430.1L965.7 365.4L965.8 397.3L965.9 429.9L965.9 428.5L966.0 418.4L966.1 426.5L966.2 423.5L966.3 340.6L966.3 404.3L966.4 413.7L966.5 410.2L966.6 374.2L966.6 382.2L966.7 397.0L966.8 339.9L966.9 378.2L966.9 376.5L967.0 404.3L967.1 403.8L967.2 384.5L967.2 377.3L967.3 387.9L967.4 380.7L967.5 385.3L967.6 356.4L967.6 338.4L967.7 339.0L967.8 337.7L967.9 339.5L967.9 349.3L968.0 339.4L968.1 339.0L968.2 354.0L968.2 344.9L968.3 353.4L968.4 337.4L968.5 337.9L968.5 338.3L968.6 385.9L968.7 384.4L968.8 337.3L968.9 357.9L968.9 381.6L969.0 386.0L969.1 344.0L969.2 350.5L969.2 389.8L969.3 361.5L969.4 369.5L969.5 345.3L969.5 334.3L969.6 335.7L969.7 370.6L969.8 387.3L969.8 354.3L969.9 344.5L970.0 333.8L970.1 333.2L970.2 340.3L970.2 384.2L970.3 387.7L970.4 373.0L970.5 386.7L970.5 384.4L970.6 373.4L970.7 366.0L970.8 352.2L970.8 361.5L970.9 385.5L971.0 358.2L971.1 331.7L971.1 365.0L971.2 362.9L971.3 331.6L971.4 331.4L971.5 330.9L971.5 329.7L971.6 345.5L971.7 376.1L971.8 363.2L971.8 364.0L971.9 340.6L972.0 374.5L972.1 385.3L972.1 371.7L972.2 344.7L972.3 384.7L972.4 384.7L972.4 357.6L972.5 329.2L972.6 329.8L972.7 372.4L972.7 350.3L972.8 346.7L972.9 338.6L973.0 364.7L973.1 384.3L973.1 343.3L973.2 342.0L973.3 343.7L973.4 333.9L973.4 329.4L973.5 356.4L973.6 360.3L973.7 375.1L973.7 383.3L973.8 370.7L973.9 375.7L974.0 356.3L974.0 353.6L974.1 363.4L974.2 355.3L974.3 329.5L974.4 373.7L974.4 368.9L974.5 332.8L974.6 329.1L974.7 327.9L974.7 355.0L974.8 377.8L974.9 383.6L975.0 366.3L975.0 375.3L975.1 327.9L975.2 344.5L975.3 372.6L975.3 348.6L975.4 347.7L975.5 354.5L975.6 358.7L975.7 383.0L975.7 347.2L975.8 380.9L975.9 338.1L976.0 330.1L976.0 330.1L976.1 336.3L976.2 333.1L976.3 357.1L976.3 356.7L976.4 383.1L976.5 383.7L976.6 368.4L976.6 371.2L976.7 376.9L976.8 362.8L976.9 330.3L977.0 327.5L977.0 342.9L977.1 370.9L977.2 374.8L977.3 364.0L977.3 373.5L977.4 352.3L977.5 361.2L977.6 384.3L977.6 384.8L977.7 384.8L977.8 374.9L977.9 371.1L977.9 336.8L978.0 370.5L978.1 352.2L978.2 327.9L978.3 327.4L978.3 346.6L978.4 328.2L978.5 328.0L978.6 347.4L978.6 354.5L978.7 354.1L978.8 327.7L978.9 375.0L978.9 385.0L979.0 385.0L979.1 345.0L979.2 366.3L979.2 384.3L979.3 365.4L979.4 354.2L979.5 342.2L979.5 365.6L979.6 354.7L979.7 346.7L979.8 328.4L979.9 327.8L979.9 348.1L980.0 385.7L980.1 385.5L980.2 385.8L980.2 371.3L980.3 363.1L980.4 369.7L980.5 359.1L980.5 385.4L980.6 343.8L980.7 335.2L980.8 336.6L980.8 329.2L980.9 365.4L981.0 330.1L981.1 363.3L981.2 381.2L981.2 377.8L981.3 384.5L981.4 387.0L981.5 386.0L981.5 384.2L981.6 384.8L981.7 383.7L981.8 360.0L981.8 339.5L981.9 365.9L982.0 347.8L982.1 377.4L982.1 385.0L982.2 363.0L982.3 370.9L982.4 367.5L982.5 359.9L982.5 385.2L982.6 375.6L982.7 374.1L982.8 332.6L982.8 353.7L982.9 330.8L983.0 330.7L983.1 398.0L983.1 388.0L983.2 379.7L983.3 337.6L983.4 360.3L983.4 349.8L983.5 365.3L983.6 332.5L983.7 375.4L983.8 388.7L983.8 347.6L983.9 335.1L984.0 333.0L984.1 368.6L984.1 333.0L984.2 343.6L984.3 348.0L984.4 335.0L984.4 372.2L984.5 334.7L984.6 334.9L984.7 337.2L984.7 360.8L984.8 354.0L984.9 336.8L985.0 368.9L985.1 354.1L985.1 342.1L985.2 346.9L985.3 372.1L985.4 407.3L985.4 383.7L985.5 389.6L985.6 378.0L985.7 368.1L985.7 412.6L985.8 416.9L985.9 417.9L986.0 389.8L986.0 352.1L986.1 378.1L986.2 368.1L986.3 352.2L986.4 392.6L986.4 341.6L986.5 337.4L986.6 387.7L986.7 381.6L986.7 404.8L986.8 362.1L986.9 398.5L987.0 364.5L987.0 415.9L987.1 419.9L987.2 416.6L987.3 419.4L987.3 419.1L987.4 388.1L987.5 415.1L987.6 416.9L987.6 416.6L987.7 415.5L987.8 420.0L987.9 387.4L988.0 351.1L988.0 353.8L988.1 380.8L988.2 353.0L988.3 354.1L988.3 353.0L988.4 474.4L988.5 384.7L988.6 361.4L988.6 400.2L988.7 404.2L988.8 417.4L988.9 416.5L988.9 394.7L989.0 398.5L989.1 389.4L989.2 403.4L989.3 403.0L989.3 397.8L989.4 412.4L989.5 404.4L989.6 415.1L989.6 405.6L989.7 394.0L989.8 415.2L989.9 416.8L989.9 418.2L990.0 417.0L990.1 407.6L990.2 405.0L990.2 402.8L990.3 354.3L990.4 354.8" stroke="#339933" stroke-width="0.7" stroke-opacity="0.13" fill="none"/>
<path d="M925.3 415.8h0M925.4 453.0h0M925.5 430.1h0M925.5 403.7h0M925.6 459.5h0M925.7 405.2h0M925.8 407.8h0M925.8 405.1h0M925.9 417.4h0M926.0 403.3h0M926.1 404.1h0M926.1 404.5h0M926.2 428.2h0M926.3 406.9h0M926.4 403.9h0M926.4 403.8h0M926.5 404.0h0M926.6 404.5h0M926.7 418.9h0M926.8 421.9h0M926.8 425.8h0M926.9 412.3h0M927.0 457.0h0M927.1 435.1h0M927.1 427.5h0M927.2 428.2h0M927.3 404.0h0M927.4 412.8h0M927.4 420.2h0M927.5 437.4h0M927.6 405.2h0M927.7 407.2h0M927.7 409.7h0M927.8 416.0h0M927.9 408.9h0M928.0 462.0h0M928.1 429.6h0M928.1 425.9h0M928.2 419.0h0M928.3 417.0h0M928.4 413.9h0M928.4 418.3h0M928.5 411.0h0M928.6 410.7h0M928.7 424.3h0M928.7 411.9h0M928.8 412.5h0M928.9 411.8h0M929.0 411.7h0M929.0 411.4h0M929.1 411.9h0M929.2 411.3h0M929.3 411.1h0M929.3 413.6h0M929.4 434.4h0M929.5 432.8h0M929.6 468.6h0M929.7 412.0h0M929.7 415.5h0M929.8 424.6h0M929.9 414.6h0M930.0 430.0h0M930.0 425.4h0M930.1 428.2h0M930.2 418.2h0M930.3 413.6h0M930.3 420.3h0M930.4 426.1h0M930.5 428.4h0M930.6 412.0h0M930.6 411.2h0M930.7 413.9h0M930.8 411.4h0M930.9 420.9h0M931.0 425.4h0M931.0 474.4h0M931.1 413.3h0M931.2 428.1h0M931.3 420.9h0M931.3 479.0h0M931.4 436.7h0M931.5 411.0h0M931.6 425.4h0M931.6 416.1h0M931.7 412.1h0M931.8 413.3h0M931.9 415.3h0M931.9 421.4h0M932.0 431.1h0M932.1 431.8h0M932.2 416.8h0M932.3 412.1h0M932.3 410.3h0M932.4 415.2h0M932.5 429.5h0M932.6 437.2h0M932.6 416.9h0M932.7 419.8h0M932.8 417.1h0M932.9 413.7h0M932.9 418.8h0M933.0 416.4h0M933.1 415.0h0M933.2 410.7h0M933.2 420.0h0M933.3 433.6h0M933.4 438.7h0M933.5 427.9h0M933.6 410.8h0M933.6 412.2h0M933.7 410.5h0M933.8 426.5h0M933.9 412.8h0M933.9 417.3h0M934.0 463.0h0M934.1 410.1h0M934.2 415.7h0M934.2 436.2h0M934.3 420.1h0M934.4 425.3h0M934.5 410.1h0M934.5 411.0h0M934.6 410.2h0M934.7 410.9h0M934.8 416.3h0M934.9 426.8h0M934.9 410.8h0M935.0 418.1h0M935.1 410.7h0M935.2 435.1h0M935.2 432.1h0M935.3 428.4h0M935.4 421.9h0M935.5 420.5h0M935.5 420.3h0M935.6 411.5h0M935.7 425.6h0M935.8 426.4h0M935.8 432.5h0M935.9 425.9h0M936.0 431.6h0M936.1 415.8h0M936.1 438.2h0M936.2 432.6h0M936.3 420.6h0M936.4 432.5h0M936.5 438.3h0M936.5 420.8h0M936.6 410.7h0M936.7 410.1h0M936.8 410.2h0M936.8 409.9h0M936.9 412.6h0M937.0 426.4h0M937.1 435.5h0M937.1 420.5h0M937.2 427.4h0M937.3 434.1h0M937.4 437.4h0M937.4 430.6h0M937.5 415.4h0M937.6 427.6h0M937.7 438.1h0M937.8 424.8h0M937.8 437.7h0M937.9 436.6h0M938.0 433.6h0M938.1 410.1h0M938.1 409.7h0M938.2 410.1h0M938.3 420.7h0M938.4 485.4h0M938.4 437.3h0M938.5 436.2h0M938.6 430.6h0M938.7 411.0h0M938.7 410.0h0M938.8 419.2h0M938.9 435.3h0M939.0 435.6h0M939.1 426.0h0M939.1 410.0h0M939.2 414.7h0M939.3 428.3h0M939.4 419.6h0M939.4 423.2h0M939.5 424.0h0M939.6 418.3h0M939.7 410.3h0M939.7 415.9h0M939.8 409.6h0M939.9 427.7h0M940.0 411.8h0M940.0 421.9h0M940.1 411.2h0M940.2 420.0h0M940.3 416.7h0M940.4 425.2h0M940.4 411.9h0M940.5 410.3h0M940.6 409.2h0M940.7 409.5h0M940.7 410.3h0M940.8 409.3h0M940.9 409.2h0M941.0 410.1h0M941.0 409.2h0M941.1 413.0h0M941.2 436.7h0M941.3 434.9h0M941.3 432.2h0M941.4 433.2h0M941.5 424.9h0M941.6 414.0h0M941.7 428.1h0M941.7 435.0h0M941.8 409.5h0M941.9 408.5h0M942.0 408.5h0M942.0 408.3h0M942.1 427.9h0M942.2 415.4h0M942.3 428.5h0M942.3 415.4h0M942.4 410.8h0M942.5 424.4h0M942.6 410.3h0M942.6 411.3h0M942.7 406.5h0M942.8 406.2h0M942.9 415.9h0M943.0 425.0h0M943.0 405.4h0M943.1 406.8h0M943.2 437.2h0M943.3 419.5h0M943.3 405.3h0M943.4 417.8h0M943.5 405.5h0M943.6 405.2h0M943.6 423.7h0M943.7 433.2h0M943.8 422.0h0M943.9 435.8h0M943.9 425.0h0M944.0 415.9h0M944.1 415.2h0M944.2 410.0h0M944.2 420.8h0M944.3 422.2h0M944.4 406.2h0M944.5 412.9h0M944.6 405.4h0M944.6 404.5h0M944.7 405.5h0M944.8 426.1h0M944.9 424.7h0M944.9 435.8h0M945.0 436.5h0M945.1 431.5h0M945.2 413.5h0M945.2 402.2h0M945.3 411.9h0M945.4 426.9h0M945.5 436.7h0M945.5 408.7h0M945.6 426.3h0M945.7 434.6h0M945.8 435.6h0M945.9 437.0h0M945.9 427.5h0M946.0 401.6h0M946.1 401.8h0M946.2 402.8h0M946.2 401.9h0M946.3 401.3h0M946.4 401.3h0M946.5 402.3h0M946.5 409.0h0M946.6 424.0h0M946.7 417.2h0M946.8 431.5h0M946.8 436.1h0M946.9 402.6h0M947.0 403.5h0M947.1 401.8h0M947.2 401.6h0M947.2 402.4h0M947.3 405.5h0M947.4 432.2h0M947.5 436.5h0M947.5 436.8h0M947.6 424.8h0M947.7 416.6h0M947.8 414.7h0M947.8 423.7h0M947.9 406.0h0M948.0 455.0h0M948.1 412.1h0M948.1 429.7h0M948.2 435.3h0M948.3 436.3h0M948.4 431.6h0M948.5 401.1h0M948.5 400.2h0M948.6 401.5h0M948.7 400.6h0M948.8 399.9h0M948.8 401.3h0M948.9 400.9h0M949.0 409.3h0M949.1 435.2h0M949.1 424.9h0M949.2 424.5h0M949.3 400.1h0M949.4 405.8h0M949.4 399.9h0M949.5 400.4h0M949.6 400.3h0M949.7 418.2h0M949.8 400.2h0M949.8 402.1h0M949.9 400.6h0M950.0 473.7h0M950.1 416.8h0M950.1 417.0h0M950.2 400.9h0M950.3 419.9h0M950.4 420.0h0M950.4 399.8h0M950.5 429.1h0M950.6 416.0h0M950.7 429.8h0M950.7 399.7h0M950.8 400.6h0M950.9 401.4h0M951.0 467.3h0M951.0 419.0h0M951.1 400.0h0M951.2 404.1h0M951.3 400.9h0M951.4 411.2h0M951.4 416.0h0M951.5 405.4h0M951.6 436.1h0M951.7 428.8h0M951.7 435.3h0M951.8 404.5h0M951.9 406.8h0M952.0 411.6h0M952.0 414.7h0M952.1 407.1h0M952.2 396.9h0M952.3 396.8h0M952.3 398.1h0M952.4 396.5h0M952.5 393.5h0M952.6 413.3h0M952.7 435.8h0M952.7 434.7h0M952.8 435.9h0M952.9 434.9h0M953.0 434.4h0M953.0 432.4h0M953.1 415.2h0M953.2 402.6h0M953.3 412.0h0M953.3 432.9h0M953.4 434.8h0M953.5 435.6h0M953.6 404.1h0M953.6 411.2h0M953.7 417.7h0M953.8 423.3h0M953.9 386.0h0M954.0 386.7h0M954.0 385.5h0M954.1 384.5h0M954.2 432.2h0M954.3 425.2h0M954.3 387.5h0M954.4 404.0h0M954.5 477.4h0M954.6 405.3h0M954.6 394.1h0M954.7 384.4h0M954.8 384.6h0M954.9 406.6h0M954.9 413.3h0M955.0 433.1h0M955.1 395.6h0M955.2 424.8h0M955.3 417.0h0M955.3 415.8h0M955.4 434.1h0M955.5 419.6h0M955.6 418.7h0M955.6 426.1h0M955.7 429.4h0M955.8 433.1h0M955.9 434.0h0M955.9 434.9h0M956.0 413.3h0M956.1 435.3h0M956.2 432.1h0M956.2 428.2h0M956.3 399.2h0M956.4 382.4h0M956.5 383.2h0M956.6 383.7h0M956.6 407.5h0M956.7 407.0h0M956.8 424.8h0M956.9 433.8h0M956.9 435.4h0M957.0 451.0h0M957.1 417.6h0M957.2 405.5h0M957.2 382.5h0M957.3 427.8h0M957.4 384.5h0M957.5 391.7h0M957.5 403.8h0M957.6 379.3h0M957.7 394.3h0M957.8 389.0h0M957.8 402.2h0M957.9 393.1h0M958.0 376.6h0M958.1 384.4h0M958.2 396.0h0M958.2 425.1h0M958.3 425.7h0M958.4 374.6h0M958.5 415.6h0M958.5 427.9h0M958.6 432.0h0M958.7 429.4h0M958.8 397.0h0M958.8 414.5h0M958.9 397.0h0M959.0 431.9h0M959.1 430.0h0M959.1 385.2h0M959.2 382.9h0M959.3 429.4h0M959.4 400.5h0M959.5 372.0h0M959.5 407.8h0M959.6 413.6h0M959.7 391.9h0M959.8 417.0h0M959.8 381.0h0M959.9 371.3h0M960.0 406.2h0M960.1 387.1h0M960.1 409.5h0M960.2 404.9h0M960.3 424.7h0M960.4 416.1h0M960.4 371.2h0M960.5 392.8h0M960.6 381.4h0M960.7 416.4h0M960.8 411.2h0M960.8 434.2h0M960.9 413.6h0M961.0 371.5h0M961.1 369.2h0M961.1 395.1h0M961.2 385.7h0M961.3 377.6h0M961.4 428.0h0M961.4 410.6h0M961.5 429.9h0M961.6 420.0h0M961.7 366.9h0M961.7 367.1h0M961.8 365.4h0M961.9 388.9h0M962.0 367.4h0M962.1 364.7h0M962.1 365.4h0M962.2 366.0h0M962.3 362.2h0M962.4 361.5h0M962.4 426.8h0M962.5 420.0h0M962.6 379.2h0M962.7 385.2h0M962.7 431.8h0M962.8 430.3h0M962.9 411.4h0M963.0 357.2h0M963.0 356.0h0M963.1 357.3h0M963.2 360.6h0M963.3 355.9h0M963.4 354.1h0M963.4 354.0h0M963.5 352.3h0M963.6 352.5h0M963.7 353.5h0M963.7 377.5h0M963.8 394.3h0M963.9 423.0h0M964.0 427.8h0M964.0 431.0h0M964.1 411.5h0M964.2 429.8h0M964.3 427.2h0M964.3 430.9h0M964.4 398.4h0M964.5 406.0h0M964.6 341.8h0M964.7 342.3h0M964.7 340.1h0M964.8 340.9h0M964.9 383.2h0M965.0 383.1h0M965.0 428.9h0M965.1 413.5h0M965.2 402.7h0M965.3 379.4h0M965.3 402.6h0M965.4 391.0h0M965.5 426.5h0M965.6 429.2h0M965.6 430.1h0M965.7 365.4h0M965.8 397.3h0M965.9 429.9h0M965.9 428.5h0M966.0 418.4h0M966.1 426.5h0M966.2 423.5h0M966.3 340.6h0M966.3 404.3h0M966.4 413.7h0M966.5 410.2h0M966.6 374.2h0M966.6 382.2h0M966.7 397.0h0M966.8 339.9h0M966.9 378.2h0M966.9 376.5h0M967.0 404.3h0M967.1 403.8h0M967.2 384.5h0M967.2 377.3h0M967.3 387.9h0M967.4 380.7h0M967.5 385.3h0M967.6 356.4h0M967.6 338.4h0M967.7 339.0h0M967.8 337.7h0M967.9 339.5h0M967.9 349.3h0M968.0 339.4h0M968.1 339.0h0M968.2 354.0h0M968.2 344.9h0M968.3 353.4h0M968.4 337.4h0M968.5 337.9h0M968.5 338.3h0M968.6 385.9h0M968.7 384.4h0M968.8 337.3h0M968.9 357.9h0M968.9 381.6h0M969.0 386.0h0M969.1 344.0h0M969.2 350.5h0M969.2 389.8h0M969.3 361.5h0M969.4 369.5h0M969.5 345.3h0M969.5 334.3h0M969.6 335.7h0M969.7 370.6h0M969.8 387.3h0M969.8 354.3h0M969.9 344.5h0M970.0 333.8h0M970.1 333.2h0M970.2 340.3h0M970.2 384.2h0M970.3 387.7h0M970.4 373.0h0M970.5 386.7h0M970.5 384.4h0M970.6 373.4h0M970.7 366.0h0M970.8 352.2h0M970.8 361.5h0M970.9 385.5h0M971.0 358.2h0M971.1 331.7h0M971.1 365.0h0M971.2 362.9h0M971.3 331.6h0M971.4 331.4h0M971.5 330.9h0M971.5 329.7h0M971.6 345.5h0M971.7 376.1h0M971.8 363.2h0M971.8 364.0h0M971.9 340.6h0M972.0 374.5h0M972.1 385.3h0M972.1 371.7h0M972.2 344.7h0M972.3 384.7h0M972.4 384.7h0M972.4 357.6h0M972.5 329.2h0M972.6 329.8h0M972.7 372.4h0M972.7 350.3h0M972.8 346.7h0M972.9 338.6h0M973.0 364.7h0M973.1 384.3h0M973.1 343.3h0M973.2 342.0h0M973.3 343.7h0M973.4 333.9h0M973.4 329.4h0M973.5 356.4h0M973.6 360.3h0M973.7 375.1h0M973.7 383.3h0M973.8 370.7h0M973.9 375.7h0M974.0 356.3h0M974.0 353.6h0M974.1 363.4h0M974.2 355.3h0M974.3 329.5h0M974.4 373.7h0M974.4 368.9h0M974.5 332.8h0M974.6 329.1h0M974.7 327.9h0M974.7 355.0h0M974.8 377.8h0M974.9 383.6h0M975.0 366.3h0M975.0 375.3h0M975.1 327.9h0M975.2 344.5h0M975.3 372.6h0M975.3 348.6h0M975.4 347.7h0M975.5 354.5h0M975.6 358.7h0M975.7 383.0h0M975.7 347.2h0M975.8 380.9h0M975.9 338.1h0M976.0 330.1h0M976.0 330.1h0M976.1 336.3h0M976.2 333.1h0M976.3 357.1h0M976.3 356.7h0M976.4 383.1h0M976.5 383.7h0M976.6 368.4h0M976.6 371.2h0M976.7 376.9h0M976.8 362.8h0M976.9 330.3h0M977.0 327.5h0M977.0 342.9h0M977.1 370.9h0M977.2 374.8h0M977.3 364.0h0M977.3 373.5h0M977.4 352.3h0M977.5 361.2h0M977.6 384.3h0M977.6 384.8h0M977.7 384.8h0M977.8 374.9h0M977.9 371.1h0M977.9 336.8h0M978.0 370.5h0M978.1 352.2h0M978.2 327.9h0M978.3 327.4h0M978.3 346.6h0M978.4 328.2h0M978.5 328.0h0M978.6 347.4h0M978.6 354.5h0M978.7 354.1h0M978.8 327.7h0M978.9 375.0h0M978.9 385.0h0M979.0 385.0h0M979.1 345.0h0M979.2 366.3h0M979.2 384.3h0M979.3 365.4h0M979.4 354.2h0M979.5 342.2h0M979.5 365.6h0M979.6 354.7h0M979.7 346.7h0M979.8 328.4h0M979.9 327.8h0M979.9 348.1h0M980.0 385.7h0M980.1 385.5h0M980.2 385.8h0M980.2 371.3h0M980.3 363.1h0M980.4 369.7h0M980.5 359.1h0M980.5 385.4h0M980.6 343.8h0M980.7 335.2h0M980.8 336.6h0M980.8 329.2h0M980.9 365.4h0M981.0 330.1h0M981.1 363.3h0M981.2 381.2h0M981.2 377.8h0M981.3 384.5h0M981.4 387.0h0M981.5 386.0h0M981.5 384.2h0M981.6 384.8h0M981.7 383.7h0M981.8 360.0h0M981.8 339.5h0M981.9 365.9h0M982.0 347.8h0M982.1 377.4h0M982.1 385.0h0M982.2 363.0h0M982.3 370.9h0M982.4 367.5h0M982.5 359.9h0M982.5 385.2h0M982.6 375.6h0M982.7 374.1h0M982.8 332.6h0M982.8 353.7h0M982.9 330.8h0M983.0 330.7h0M983.1 398.0h0M983.1 388.0h0M983.2 379.7h0M983.3 337.6h0M983.4 360.3h0M983.4 349.8h0M983.5 365.3h0M983.6 332.5h0M983.7 375.4h0M983.8 388.7h0M983.8 347.6h0M983.9 335.1h0M984.0 333.0h0M984.1 368.6h0M984.1 333.0h0M984.2 343.6h0M984.3 348.0h0M984.4 335.0h0M984.4 372.2h0M984.5 334.7h0M984.6 334.9h0M984.7 337.2h0M984.7 360.8h0M984.8 354.0h0M984.9 336.8h0M985.0 368.9h0M985.1 354.1h0M985.1 342.1h0M985.2 346.9h0M985.3 372.1h0M985.4 407.3h0M985.4 383.7h0M985.5 389.6h0M985.6 378.0h0M985.7 368.1h0M985.7 412.6h0M985.8 416.9h0M985.9 417.9h0M986.0 389.8h0M986.0 352.1h0M986.1 378.1h0M986.2 368.1h0M986.3 352.2h0M986.4 392.6h0M986.4 341.6h0M986.5 337.4h0M986.6 387.7h0M986.7 381.6h0M986.7 404.8h0M986.8 362.1h0M986.9 398.5h0M987.0 364.5h0M987.0 415.9h0M987.1 419.9h0M987.2 416.6h0M987.3 419.4h0M987.3 419.1h0M987.4 388.1h0M987.5 415.1h0M987.6 416.9h0M987.6 416.6h0M987.7 415.5h0M987.8 420.0h0M987.9 387.4h0M988.0 351.1h0M988.0 353.8h0M988.1 380.8h0M988.2 353.0h0M988.3 354.1h0M988.3 353.0h0M988.4 474.4h0M988.5 384.7h0M988.6 361.4h0M988.6 400.2h0M988.7 404.2h0M988.8 417.4h0M988.9 416.5h0M988.9 394.7h0M989.0 398.5h0M989.1 389.4h0M989.2 403.4h0M989.3 403.0h0M989.3 397.8h0M989.4 412.4h0M989.5 404.4h0M989.6 415.1h0M989.6 405.6h0M989.7 394.0h0M989.8 415.2h0M989.9 416.8h0M989.9 418.2h0M990.0 417.0h0M990.1 407.6h0M990.2 405.0h0M990.2 402.8h0M990.3 354.3h0M990.4 354.8h0" stroke="#339933" stroke-width="6.4" stroke-linecap="round" fill="none"/>
<path d="M925.3 432.8L925.4 429.8L925.5 437.1L925.5 425.4L925.6 433.8L925.7 442.8L925.8 432.6L925.8 425.3L925.9 447.5L926.0 446.3L926.1 424.8L926.1 425.9L926.2 424.1L926.3 424.9L926.4 454.3L926.4 425.0L926.5 466.2L926.6 446.8L926.7 436.6L926.8 446.7L926.8 446.8L926.9 425.0L927.0 424.8L927.1 437.1L927.1 445.9L927.2 446.9L927.3 424.3L927.4 424.2L927.4 446.0L927.5 437.0L927.6 449.7L927.7 441.4L927.7 425.1L927.8 451.4L927.9 449.8L928.0 452.2L928.1 452.2L928.1 426.1L928.2 435.5L928.3 453.6L928.4 430.6L928.4 441.3L928.5 454.2L928.6 424.6L928.7 429.8L928.7 441.4L928.8 454.6L928.9 442.5L929.0 428.1L929.0 448.9L929.1 430.8L929.2 446.6L929.3 448.4L929.3 438.1L929.4 453.8L929.5 454.2L929.6 425.2L929.7 445.6L929.7 437.8L929.8 433.8L929.9 439.8L930.0 452.5L930.0 440.7L930.1 433.7L930.2 424.4L930.3 431.5L930.3 436.8L930.4 424.5L930.5 429.9L930.6 442.5L930.6 447.6L930.7 437.1L930.8 447.2L930.9 447.2L931.0 447.5L931.0 447.5L931.1 441.2L931.2 429.2L931.3 434.7L931.3 437.8L931.4 440.0L931.5 447.7L931.6 447.6L931.6 447.7L931.7 447.7L931.8 431.3L931.9 424.3L931.9 430.5L932.0 442.4L932.1 451.5L932.2 450.8L932.3 450.0L932.3 450.9L932.4 450.7L932.5 448.3L932.6 450.9L932.6 449.4L932.7 450.5L932.8 428.8L932.9 425.7L932.9 434.3L933.0 451.0L933.1 450.5L933.2 435.0L933.2 448.3L933.3 431.6L933.4 451.4L933.5 430.8L933.6 424.1L933.6 454.9L933.7 424.2L933.8 424.9L933.9 451.9L933.9 447.3L934.0 424.3L934.1 456.6L934.2 424.6L934.2 430.9L934.3 439.2L934.4 457.7L934.5 452.1L934.5 457.3L934.6 446.1L934.7 455.6L934.8 424.7L934.9 439.5L934.9 431.4L935.0 425.2L935.1 446.2L935.2 457.5L935.2 457.5L935.3 440.6L935.4 457.2L935.5 426.2L935.5 446.4L935.6 454.0L935.7 444.0L935.8 438.4L935.8 444.6L935.9 432.6L936.0 436.4L936.1 453.9L936.1 424.8L936.2 453.0L936.3 450.5L936.4 446.3L936.5 426.2L936.5 430.8L936.6 429.1L936.7 449.1L936.8 451.1L936.8 450.1L936.9 445.8L937.0 424.4L937.1 424.5L937.1 430.0L937.2 443.7L937.3 424.0L937.4 432.1L937.4 439.6L937.5 430.3L937.6 434.9L937.7 449.6L937.8 447.0L937.8 451.5L937.9 450.2L938.0 430.5L938.1 447.1L938.1 434.5L938.2 437.7L938.3 424.5L938.4 438.0L938.4 430.0L938.5 450.1L938.6 444.9L938.7 434.4L938.7 425.2L938.8 436.2L938.9 432.7L939.0 426.4L939.1 450.0L939.1 443.6L939.2 451.0L939.3 453.9L939.4 454.2L939.4 455.2L939.5 453.8L939.6 455.7L939.7 456.1L939.7 454.7L939.8 447.9L939.9 434.1L940.0 432.5L940.0 428.7L940.1 444.0L940.2 457.4L940.3 429.8L940.4 428.7L940.4 424.2L940.5 437.6L940.6 459.3L940.7 440.6L940.7 449.4L940.8 424.4L940.9 431.1L941.0 450.7L941.0 432.1L941.1 425.1L941.2 445.0L941.3 440.8L941.3 456.9L941.4 437.8L941.5 438.1L941.6 433.8L941.7 442.0L941.7 424.0L941.8 454.4L941.9 454.2L942.0 439.5L942.0 433.7L942.1 446.5L942.2 446.6L942.3 433.8L942.3 435.4L942.4 444.2L942.5 433.2L942.6 432.6L942.6 431.1L942.7 431.7L942.8 425.1L942.9 425.5L943.0 441.4L943.0 450.5L943.1 441.1L943.2 424.7L943.3 424.9L943.3 438.8L943.4 450.4L943.5 451.0L943.6 441.0L943.6 433.8L943.7 431.3L943.8 451.0L943.9 448.3L943.9 426.9L944.0 451.4L944.1 451.0L944.2 424.7L944.2 424.2L944.3 451.7L944.4 453.2L944.5 423.5L944.6 436.5L944.6 453.6L944.7 450.6L944.8 424.0L944.9 433.6L944.9 452.8L945.0 453.4L945.1 425.2L945.2 456.3L945.2 455.0L945.3 479.6L945.4 429.0L945.5 422.2L945.5 421.7L945.6 435.4L945.7 458.0L945.8 467.3L945.9 453.3L945.9 457.6L946.0 450.5L946.1 430.1L946.2 457.6L946.2 455.5L946.3 456.6L946.4 456.4L946.5 427.0L946.5 428.3L946.6 429.6L946.7 430.2L946.8 448.1L946.8 438.1L946.9 424.0L947.0 454.2L947.1 453.9L947.2 446.8L947.2 421.2L947.3 423.4L947.4 421.9L947.5 419.9L947.5 420.5L947.6 438.2L947.7 443.9L947.8 447.4L947.8 423.0L947.9 440.7L948.0 451.3L948.1 449.8L948.1 432.9L948.2 450.5L948.3 451.5L948.4 429.2L948.5 451.3L948.5 427.4L948.6 428.8L948.7 451.2L948.8 429.7L948.8 418.7L948.9 445.7L949.0 450.7L949.1 418.4L949.1 426.6L949.2 448.4L949.3 446.6L949.4 451.3L949.4 439.4L949.5 426.0L949.6 424.9L949.7 429.2L949.8 440.0L949.8 418.5L949.9 418.5L950.0 428.7L950.1 449.1L950.1 427.7L950.2 436.4L950.3 419.2L950.4 420.2L950.4 435.3L950.5 436.6L950.6 428.3L950.7 419.0L950.7 434.5L950.8 437.1L950.9 434.2L951.0 436.6L951.0 432.0L951.1 450.4L951.2 451.6L951.3 454.6L951.4 455.2L951.4 448.8L951.5 420.1L951.6 451.0L951.7 430.4L951.7 458.1L951.8 420.3L951.9 427.5L952.0 458.4L952.0 449.6L952.1 458.6L952.2 456.9L952.3 435.4L952.3 458.4L952.4 426.9L952.5 432.0L952.6 457.9L952.7 447.9L952.7 451.9L952.8 422.0L952.9 457.4L953.0 427.2L953.0 423.8L953.1 425.5L953.2 420.6L953.3 421.8L953.3 428.3L953.4 428.4L953.5 435.9L953.6 421.8L953.6 420.8L953.7 429.2L953.8 436.3L953.9 422.8L954.0 434.3L954.0 433.3L954.1 450.6L954.2 450.8L954.3 449.8L954.3 451.0L954.4 431.3L954.5 449.3L954.6 446.2L954.6 431.5L954.7 444.3L954.8 423.0L954.9 451.2L954.9 448.3L955.0 422.9L955.1 422.7L955.2 426.1L955.3 427.1L955.3 444.2L955.4 450.7L955.5 450.9L955.6 451.3L955.6 426.5L955.7 451.2L955.8 451.0L955.9 422.7L955.9 424.9L956.0 430.0L956.1 425.1L956.2 450.5L956.2 449.2L956.3 442.1L956.4 423.0L956.5 422.6L956.6 422.9L956.6 423.0L956.7 424.3L956.8 424.6L956.9 424.5L956.9 425.6L957.0 441.5L957.1 430.2L957.2 432.8L957.2 436.1L957.3 436.8L957.4 450.9L957.5 429.1L957.5 440.0L957.6 423.2L957.7 451.2L957.8 450.8L957.8 451.1L957.9 445.2L958.0 438.6L958.1 422.7L958.2 441.4L958.2 454.8L958.3 422.8L958.4 453.8L958.5 430.1L958.5 448.7L958.6 427.4L958.7 435.5L958.8 456.6L958.8 441.3L958.9 457.3L959.0 450.8L959.1 457.2L959.1 432.7L959.2 430.3L959.3 431.9L959.4 451.7L959.5 458.8L959.5 451.1L959.6 424.6L959.7 425.9L959.8 423.6L959.8 446.1L959.9 443.6L960.0 422.9L960.1 430.5L960.1 456.8L960.2 453.8L960.3 432.6L960.4 453.9L960.4 451.2L960.5 432.3L960.6 442.5L960.7 452.4L960.8 427.3L960.8 452.9L960.9 439.3L961.0 449.2L961.1 447.5L961.1 445.3L961.2 437.3L961.3 438.4L961.4 449.7L961.4 448.5L961.5 423.1L961.6 441.9L961.7 450.7L961.7 450.7L961.8 446.2L961.9 422.7L962.0 442.9L962.1 450.2L962.1 449.8L962.2 427.9L962.3 432.1L962.4 428.1L962.4 431.4L962.5 422.7L962.6 424.4L962.7 427.6L962.7 429.1L962.8 450.7L962.9 431.7L963.0 428.4L963.0 451.9L963.1 431.1L963.2 452.3L963.3 450.8L963.4 428.5L963.4 423.2L963.5 437.6L963.6 434.0L963.7 439.3L963.7 426.8L963.8 447.9L963.9 426.3L964.0 426.1L964.0 431.7L964.1 421.0L964.2 426.1L964.3 431.2L964.3 419.6L964.4 419.4L964.5 454.9L964.6 435.9L964.7 434.6L964.7 424.5L964.8 454.5L964.9 439.8L965.0 421.0L965.0 440.8L965.1 420.0L965.2 443.0L965.3 435.9L965.3 453.5L965.4 452.0L965.5 432.6L965.6 453.1L965.6 453.2L965.7 438.7L965.8 452.2L965.9 448.9L965.9 448.1L966.0 419.2L966.1 418.7L966.2 449.0L966.3 444.3L966.3 427.9L966.4 450.0L966.5 450.8L966.6 450.4L966.6 422.7L966.7 433.6L966.8 449.6L966.9 418.9L966.9 418.7L967.0 418.8L967.1 450.6L967.2 444.4L967.2 447.5L967.3 443.2L967.4 440.6L967.5 449.7L967.6 451.0L967.6 452.3L967.7 452.3L967.8 436.9L967.9 454.4L967.9 448.7L968.0 446.1L968.1 432.5L968.2 425.0L968.2 427.4L968.3 423.2L968.4 423.0L968.5 456.8L968.5 457.4L968.6 456.7L968.7 457.6L968.8 422.9L968.9 438.2L968.9 424.7L969.0 423.9L969.1 436.5L969.2 445.7L969.2 445.8L969.3 446.5L969.4 437.3L969.5 442.4L969.5 457.5L969.6 457.8L969.7 457.5L969.8 444.5L969.8 450.7L969.9 455.5L970.0 455.6L970.1 455.9L970.2 455.7L970.2 454.5L970.3 438.2L970.4 422.8L970.5 453.7L970.5 453.0L970.6 427.2L970.7 436.6L970.8 431.5L970.8 429.9L970.9 451.2L971.0 438.3L971.1 450.6L971.1 444.9L971.2 427.9L971.3 438.8L971.4 450.8L971.5 444.5L971.5 448.5L971.6 422.9L971.7 441.5L971.8 422.6L971.8 432.0L971.9 450.9L972.0 438.8L972.1 450.5L972.1 437.2L972.2 432.5L972.3 442.3L972.4 451.2L972.4 444.3L972.5 439.3L972.6 423.2L972.7 422.2L972.7 433.7L972.8 433.9L972.9 442.2L973.0 450.7L973.1 450.5L973.1 426.0L973.2 430.3L973.3 432.0L973.4 427.2L973.4 420.7L973.5 420.1L973.6 425.4L973.7 435.1L973.7 426.8L973.8 419.6L973.9 435.2L974.0 430.2L974.0 424.0L974.1 432.8L974.2 435.8L974.3 428.8L974.4 422.0L974.4 420.9L974.5 434.7L974.6 427.6L974.7 433.0L974.7 417.7L974.8 418.7L974.9 421.2L975.0 420.8L975.0 417.0L975.1 418.2L975.2 435.2L975.3 433.7L975.3 422.3L975.4 418.4L975.5 416.9L975.6 426.0L975.7 418.2L975.7 420.4L975.8 435.6L975.9 435.8L976.0 435.8L976.0 416.4L976.1 417.2L976.2 435.9L976.3 416.2L976.3 440.5L976.4 432.2L976.5 441.4L976.6 425.8L976.6 416.2L976.7 416.0L976.8 441.2L976.9 427.7L977.0 416.5L977.0 437.8L977.1 415.6L977.2 421.9L977.3 432.9L977.3 434.4L977.4 436.6L977.5 428.9L977.6 415.2L977.6 424.6L977.7 427.1L977.8 425.0L977.9 435.8L977.9 441.2L978.0 434.8L978.1 440.0L978.2 441.1L978.3 440.7L978.3 425.3L978.4 415.1L978.5 433.6L978.6 415.4L978.6 441.2L978.7 440.8L978.8 424.1L978.9 438.5L978.9 417.5L979.0 415.1L979.1 436.9L979.2 415.7L979.2 429.7L979.3 426.8L979.4 466.2L979.5 438.5L979.5 440.3L979.6 441.1L979.7 420.7L979.8 415.3L979.9 415.3L979.9 422.1L980.0 416.1L980.1 415.7L980.2 416.3L980.2 416.1L980.3 436.3L980.4 417.8L980.5 418.7L980.5 420.1L980.6 431.3L980.7 416.0L980.8 426.1L980.8 426.8L980.9 416.1L981.0 416.3L981.1 441.4L981.2 440.2L981.2 438.2L981.3 418.7L981.4 421.6L981.5 415.8L981.5 415.8L981.6 416.7L981.7 417.8L981.8 415.7L981.8 416.1L981.9 429.7L982.0 421.7L982.1 416.1L982.1 440.5L982.2 416.7L982.3 427.4L982.4 416.2L982.5 435.9L982.5 431.1L982.6 441.3L982.7 430.6L982.8 417.8L982.8 440.0L982.9 431.6L983.0 425.6L983.1 425.3L983.1 417.3L983.2 431.5L983.3 440.5L983.4 440.2L983.4 438.6L983.5 440.1L983.6 441.2L983.7 421.1L983.8 441.1L983.8 436.6L983.9 416.3L984.0 432.5L984.1 415.8L984.1 430.1L984.2 439.0L984.3 425.1L984.4 431.9L984.4 440.5L984.5 415.4L984.6 415.4L984.7 419.3L984.7 422.1L984.8 441.3L984.9 440.5L985.0 440.4L985.1 428.6L985.1 414.7L985.2 415.0L985.3 417.3L985.4 428.3L985.4 420.6L985.5 427.8L985.6 438.8L985.7 418.3L985.7 418.7L985.8 413.9L985.9 441.1L986.0 414.6L986.0 431.1L986.1 440.2L986.2 414.9L986.3 414.3L986.4 440.7L986.4 415.8L986.5 415.7L986.6 423.5L986.7 440.9L986.7 440.9L986.8 418.4L986.9 413.8L987.0 413.6L987.0 426.0L987.1 413.3L987.2 413.1L987.3 433.2L987.3 413.2L987.4 417.4L987.5 422.4L987.6 438.3L987.6 413.6L987.7 423.1L987.8 424.5L987.9 427.5L988.0 413.2L988.0 429.5L988.1 413.6L988.2 421.2L988.3 412.4L988.3 438.6L988.4 478.3L988.5 439.3L988.6 422.7L988.6 420.5L988.7 441.4L988.8 424.5L988.9 433.6L988.9 440.0L989.0 423.9L989.1 415.0L989.2 419.5L989.3 441.1L989.3 436.9L989.4 440.4L989.5 459.2L989.6 418.4L989.6 413.1L989.7 417.4L989.8 415.3L989.9 421.9L989.9 414.2L990.0 412.9L990.1 418.3L990.2 440.7L990.2 423.6L990.3 416.8L990.4 441.2" stroke="#b00000" stroke-width="0.7" stroke-opacity="0.13" fill="none"/>
<path d="M925.3 432.8h0M925.4 429.8h0M925.5 437.1h0M925.5 425.4h0M925.6 433.8h0M925.7 442.8h0M925.8 432.6h0M925.8 425.3h0M925.9 447.5h0M926.0 446.3h0M926.1 424.8h0M926.1 425.9h0M926.2 424.1h0M926.3 424.9h0M926.4 454.3h0M926.4 425.0h0M926.5 466.2h0M926.6 446.8h0M926.7 436.6h0M926.8 446.7h0M926.8 446.8h0M926.9 425.0h0M927.0 424.8h0M927.1 437.1h0M927.1 445.9h0M927.2 446.9h0M927.3 424.3h0M927.4 424.2h0M927.4 446.0h0M927.5 437.0h0M927.6 449.7h0M927.7 441.4h0M927.7 425.1h0M927.8 451.4h0M927.9 449.8h0M928.0 452.2h0M928.1 452.2h0M928.1 426.1h0M928.2 435.5h0M928.3 453.6h0M928.4 430.6h0M928.4 441.3h0M928.5 454.2h0M928.6 424.6h0M928.7 429.8h0M928.7 441.4h0M928.8 454.6h0M928.9 442.5h0M929.0 428.1h0M929.0 448.9h0M929.1 430.8h0M929.2 446.6h0M929.3 448.4h0M929.3 438.1h0M929.4 453.8h0M929.5 454.2h0M929.6 425.2h0M929.7 445.6h0M929.7 437.8h0M929.8 433.8h0M929.9 439.8h0M930.0 452.5h0M930.0 440.7h0M930.1 433.7h0M930.2 424.4h0M930.3 431.5h0M930.3 436.8h0M930.4 424.5h0M930.5 429.9h0M930.6 442.5h0M930.6 447.6h0M930.7 437.1h0M930.8 447.2h0M930.9 447.2h0M931.0 447.5h0M931.0 447.5h0M931.1 441.2h0M931.2 429.2h0M931.3 434.7h0M931.3 437.8h0M931.4 440.0h0M931.5 447.7h0M931.6 447.6h0M931.6 447.7h0M931.7 447.7h0M931.8 431.3h0M931.9 424.3h0M931.9 430.5h0M932.0 442.4h0M932.1 451.5h0M932.2 450.8h0M932.3 450.0h0M932.3 450.9h0M932.4 450.7h0M932.5 448.3h0M932.6 450.9h0M932.6 449.4h0M932.7 450.5h0M932.8 428.8h0M932.9 425.7h0M932.9 434.3h0M933.0 451.0h0M933.1 450.5h0M933.2 435.0h0M933.2 448.3h0M933.3 431.6h0M933.4 451.4h0M933.5 430.8h0M933.6 424.1h0M933.6 454.9h0M933.7 424.2h0M933.8 424.9h0M933.9 451.9h0M933.9 447.3h0M934.0 424.3h0M934.1 456.6h0M934.2 424.6h0M934.2 430.9h0M934.3 439.2h0M934.4 457.7h0M934.5 452.1h0M934.5 457.3h0M934.6 446.1h0M934.7 455.6h0M934.8 424.7h0M934.9 439.5h0M934.9 431.4h0M935.0 425.2h0M935.1 446.2h0M935.2 457.5h0M935.2 457.5h0M935.3 440.6h0M935.4 457.2h0M935.5 426.2h0M935.5 446.4h0M935.6 454.0h0M935.7 444.0h0M935.8 438.4h0M935.8 444.6h0M935.9 432.6h0M936.0 436.4h0M936.1 453.9h0M936.1 424.8h0M936.2 453.0h0M936.3 450.5h0M936.4 446.3h0M936.5 426.2h0M936.5 430.8h0M936.6 429.1h0M936.7 449.1h0M936.8 451.1h0M936.8 450.1h0M936.9 445.8h0M937.0 424.4h0M937.1 424.5h0M937.1 430.0h0M937.2 443.7h0M937.3 424.0h0M937.4 432.1h0M937.4 439.6h0M937.5 430.3h0M937.6 434.9h0M937.7 449.6h0M937.8 447.0h0M937.8 451.5h0M937.9 450.2h0M938.0 430.5h0M938.1 447.1h0M938.1 434.5h0M938.2 437.7h0M938.3 424.5h0M938.4 438.0h0M938.4 430.0h0M938.5 450.1h0M938.6 444.9h0M938.7 434.4h0M938.7 425.2h0M938.8 436.2h0M938.9 432.7h0M939.0 426.4h0M939.1 450.0h0M939.1 443.6h0M939.2 451.0h0M939.3 453.9h0M939.4 454.2h0M939.4 455.2h0M939.5 453.8h0M939.6 455.7h0M939.7 456.1h0M939.7 454.7h0M939.8 447.9h0M939.9 434.1h0M940.0 432.5h0M940.0 428.7h0M940.1 444.0h0M940.2 457.4h0M940.3 429.8h0M940.4 428.7h0M940.4 424.2h0M940.5 437.6h0M940.6 459.3h0M940.7 440.6h0M940.7 449.4h0M940.8 424.4h0M940.9 431.1h0M941.0 450.7h0M941.0 432.1h0M941.1 425.1h0M941.2 445.0h0M941.3 440.8h0M941.3 456.9h0M941.4 437.8h0M941.5 438.1h0M941.6 433.8h0M941.7 442.0h0M941.7 424.0h0M941.8 454.4h0M941.9 454.2h0M942.0 439.5h0M942.0 433.7h0M942.1 446.5h0M942.2 446.6h0M942.3 433.8h0M942.3 435.4h0M942.4 444.2h0M942.5 433.2h0M942.6 432.6h0M942.6 431.1h0M942.7 431.7h0M942.8 425.1h0M942.9 425.5h0M943.0 441.4h0M943.0 450.5h0M943.1 441.1h0M943.2 424.7h0M943.3 424.9h0M943.3 438.8h0M943.4 450.4h0M943.5 451.0h0M943.6 441.0h0M943.6 433.8h0M943.7 431.3h0M943.8 451.0h0M943.9 448.3h0M943.9 426.9h0M944.0 451.4h0M944.1 451.0h0M944.2 424.7h0M944.2 424.2h0M944.3 451.7h0M944.4 453.2h0M944.5 423.5h0M944.6 436.5h0M944.6 453.6h0M944.7 450.6h0M944.8 424.0h0M944.9 433.6h0M944.9 452.8h0M945.0 453.4h0M945.1 425.2h0M945.2 456.3h0M945.2 455.0h0M945.3 479.6h0M945.4 429.0h0M945.5 422.2h0M945.5 421.7h0M945.6 435.4h0M945.7 458.0h0M945.8 467.3h0M945.9 453.3h0M945.9 457.6h0M946.0 450.5h0M946.1 430.1h0M946.2 457.6h0M946.2 455.5h0M946.3 456.6h0M946.4 456.4h0M946.5 427.0h0M946.5 428.3h0M946.6 429.6h0M946.7 430.2h0M946.8 448.1h0M946.8 438.1h0M946.9 424.0h0M947.0 454.2h0M947.1 453.9h0M947.2 446.8h0M947.2 421.2h0M947.3 423.4h0M947.4 421.9h0M947.5 419.9h0M947.5 420.5h0M947.6 438.2h0M947.7 443.9h0M947.8 447.4h0M947.8 423.0h0M947.9 440.7h0M948.0 451.3h0M948.1 449.8h0M948.1 432.9h0M948.2 450.5h0M948.3 451.5h0M948.4 429.2h0M948.5 451.3h0M948.5 427.4h0M948.6 428.8h0M948.7 451.2h0M948.8 429.7h0M948.8 418.7h0M948.9 445.7h0M949.0 450.7h0M949.1 418.4h0M949.1 426.6h0M949.2 448.4h0M949.3 446.6h0M949.4 451.3h0M949.4 439.4h0M949.5 426.0h0M949.6 424.9h0M949.7 429.2h0M949.8 440.0h0M949.8 418.5h0M949.9 418.5h0M950.0 428.7h0M950.1 449.1h0M950.1 427.7h0M950.2 436.4h0M950.3 419.2h0M950.4 420.2h0M950.4 435.3h0M950.5 436.6h0M950.6 428.3h0M950.7 419.0h0M950.7 434.5h0M950.8 437.1h0M950.9 434.2h0M951.0 436.6h0M951.0 432.0h0M951.1 450.4h0M951.2 451.6h0M951.3 454.6h0M951.4 455.2h0M951.4 448.8h0M951.5 420.1h0M951.6 451.0h0M951.7 430.4h0M951.7 458.1h0M951.8 420.3h0M951.9 427.5h0M952.0 458.4h0M952.0 449.6h0M952.1 458.6h0M952.2 456.9h0M952.3 435.4h0M952.3 458.4h0M952.4 426.9h0M952.5 432.0h0M952.6 457.9h0M952.7 447.9h0M952.7 451.9h0M952.8 422.0h0M952.9 457.4h0M953.0 427.2h0M953.0 423.8h0M953.1 425.5h0M953.2 420.6h0M953.3 421.8h0M953.3 428.3h0M953.4 428.4h0M953.5 435.9h0M953.6 421.8h0M953.6 420.8h0M953.7 429.2h0M953.8 436.3h0M953.9 422.8h0M954.0 434.3h0M954.0 433.3h0M954.1 450.6h0M954.2 450.8h0M954.3 449.8h0M954.3 451.0h0M954.4 431.3h0M954.5 449.3h0M954.6 446.2h0M954.6 431.5h0M954.7 444.3h0M954.8 423.0h0M954.9 451.2h0M954.9 448.3h0M955.0 422.9h0M955.1 422.7h0M955.2 426.1h0M955.3 427.1h0M955.3 444.2h0M955.4 450.7h0M955.5 450.9h0M955.6 451.3h0M955.6 426.5h0M955.7 451.2h0M955.8 451.0h0M955.9 422.7h0M955.9 424.9h0M956.0 430.0h0M956.1 425.1h0M956.2 450.5h0M956.2 449.2h0M956.3 442.1h0M956.4 423.0h0M956.5 422.6h0M956.6 422.9h0M956.6 423.0h0M956.7 424.3h0M956.8 424.6h0M956.9 424.5h0M956.9 425.6h0M957.0 441.5h0M957.1 430.2h0M957.2 432.8h0M957.2 436.1h0M957.3 436.8h0M957.4 450.9h0M957.5 429.1h0M957.5 440.0h0M957.6 423.2h0M957.7 451.2h0M957.8 450.8h0M957.8 451.1h0M957.9 445.2h0M958.0 438.6h0M958.1 422.7h0M958.2 441.4h0M958.2 454.8h0M958.3 422.8h0M958.4 453.8h0M958.5 430.1h0M958.5 448.7h0M958.6 427.4h0M958.7 435.5h0M958.8 456.6h0M958.8 441.3h0M958.9 457.3h0M959.0 450.8h0M959.1 457.2h0M959.1 432.7h0M959.2 430.3h0M959.3 431.9h0M959.4 451.7h0M959.5 458.8h0M959.5 451.1h0M959.6 424.6h0M959.7 425.9h0M959.8 423.6h0M959.8 446.1h0M959.9 443.6h0M960.0 422.9h0M960.1 430.5h0M960.1 456.8h0M960.2 453.8h0M960.3 432.6h0M960.4 453.9h0M960.4 451.2h0M960.5 432.3h0M960.6 442.5h0M960.7 452.4h0M960.8 427.3h0M960.8 452.9h0M960.9 439.3h0M961.0 449.2h0M961.1 447.5h0M961.1 445.3h0M961.2 437.3h0M961.3 438.4h0M961.4 449.7h0M961.4 448.5h0M961.5 423.1h0M961.6 441.9h0M961.7 450.7h0M961.7 450.7h0M961.8 446.2h0M961.9 422.7h0M962.0 442.9h0M962.1 450.2h0M962.1 449.8h0M962.2 427.9h0M962.3 432.1h0M962.4 428.1h0M962.4 431.4h0M962.5 422.7h0M962.6 424.4h0M962.7 427.6h0M962.7 429.1h0M962.8 450.7h0M962.9 431.7h0M963.0 428.4h0M963.0 451.9h0M963.1 431.1h0M963.2 452.3h0M963.3 450.8h0M963.4 428.5h0M963.4 423.2h0M963.5 437.6h0M963.6 434.0h0M963.7 439.3h0M963.7 426.8h0M963.8 447.9h0M963.9 426.3h0M964.0 426.1h0M964.0 431.7h0M964.1 421.0h0M964.2 426.1h0M964.3 431.2h0M964.3 419.6h0M964.4 419.4h0M964.5 454.9h0M964.6 435.9h0M964.7 434.6h0M964.7 424.5h0M964.8 454.5h0M964.9 439.8h0M965.0 421.0h0M965.0 440.8h0M965.1 420.0h0M965.2 443.0h0M965.3 435.9h0M965.3 453.5h0M965.4 452.0h0M965.5 432.6h0M965.6 453.1h0M965.6 453.2h0M965.7 438.7h0M965.8 452.2h0M965.9 448.9h0M965.9 448.1h0M966.0 419.2h0M966.1 418.7h0M966.2 449.0h0M966.3 444.3h0M966.3 427.9h0M966.4 450.0h0M966.5 450.8h0M966.6 450.4h0M966.6 422.7h0M966.7 433.6h0M966.8 449.6h0M966.9 418.9h0M966.9 418.7h0M967.0 418.8h0M967.1 450.6h0M967.2 444.4h0M967.2 447.5h0M967.3 443.2h0M967.4 440.6h0M967.5 449.7h0M967.6 451.0h0M967.6 452.3h0M967.7 452.3h0M967.8 436.9h0M967.9 454.4h0M967.9 448.7h0M968.0 446.1h0M968.1 432.5h0M968.2 425.0h0M968.2 427.4h0M968.3 423.2h0M968.4 423.0h0M968.5 456.8h0M968.5 457.4h0M968.6 456.7h0M968.7 457.6h0M968.8 422.9h0M968.9 438.2h0M968.9 424.7h0M969.0 423.9h0M969.1 436.5h0M969.2 445.7h0M969.2 445.8h0M969.3 446.5h0M969.4 437.3h0M969.5 442.4h0M969.5 457.5h0M969.6 457.8h0M969.7 457.5h0M969.8 444.5h0M969.8 450.7h0M969.9 455.5h0M970.0 455.6h0M970.1 455.9h0M970.2 455.7h0M970.2 454.5h0M970.3 438.2h0M970.4 422.8h0M970.5 453.7h0M970.5 453.0h0M970.6 427.2h0M970.7 436.6h0M970.8 431.5h0M970.8 429.9h0M970.9 451.2h0M971.0 438.3h0M971.1 450.6h0M971.1 444.9h0M971.2 427.9h0M971.3 438.8h0M971.4 450.8h0M971.5 444.5h0M971.5 448.5h0M971.6 422.9h0M971.7 441.5h0M971.8 422.6h0M971.8 432.0h0M971.9 450.9h0M972.0 438.8h0M972.1 450.5h0M972.1 437.2h0M972.2 432.5h0M972.3 442.3h0M972.4 451.2h0M972.4 444.3h0M972.5 439.3h0M972.6 423.2h0M972.7 422.2h0M972.7 433.7h0M972.8 433.9h0M972.9 442.2h0M973.0 450.7h0M973.1 450.5h0M973.1 426.0h0M973.2 430.3h0M973.3 432.0h0M973.4 427.2h0M973.4 420.7h0M973.5 420.1h0M973.6 425.4h0M973.7 435.1h0M973.7 426.8h0M973.8 419.6h0M973.9 435.2h0M974.0 430.2h0M974.0 424.0h0M974.1 432.8h0M974.2 435.8h0M974.3 428.8h0M974.4 422.0h0M974.4 420.9h0M974.5 434.7h0M974.6 427.6h0M974.7 433.0h0M974.7 417.7h0M974.8 418.7h0M974.9 421.2h0M975.0 420.8h0M975.0 417.0h0M975.1 418.2h0M975.2 435.2h0M975.3 433.7h0M975.3 422.3h0M975.4 418.4h0M975.5 416.9h0M975.6 426.0h0M975.7 418.2h0M975.7 420.4h0M975.8 435.6h0M975.9 435.8h0M976.0 435.8h0M976.0 416.4h0M976.1 417.2h0M976.2 435.9h0M976.3 416.2h0M976.3 440.5h0M976.4 432.2h0M976.5 441.4h0M976.6 425.8h0M976.6 416.2h0M976.7 416.0h0M976.8 441.2h0M976.9 427.7h0M977.0 416.5h0M977.0 437.8h0M977.1 415.6h0M977.2 421.9h0M977.3 432.9h0M977.3 434.4h0M977.4 436.6h0M977.5 428.9h0M977.6 415.2h0M977.6 424.6h0M977.7 427.1h0M977.8 425.0h0M977.9 435.8h0M977.9 441.2h0M978.0 434.8h0M978.1 440.0h0M978.2 441.1h0M978.3 440.7h0M978.3 425.3h0M978.4 415.1h0M978.5 433.6h0M978.6 415.4h0M978.6 441.2h0M978.7 440.8h0M978.8 424.1h0M978.9 438.5h0M978.9 417.5h0M979.0 415.1h0M979.1 436.9h0M979.2 415.7h0M979.2 429.7h0M979.3 426.8h0M979.4 466.2h0M979.5 438.5h0M979.5 440.3h0M979.6 441.1h0M979.7 420.7h0M979.8 415.3h0M979.9 415.3h0M979.9 422.1h0M980.0 416.1h0M980.1 415.7h0M980.2 416.3h0M980.2 416.1h0M980.3 436.3h0M980.4 417.8h0M980.5 418.7h0M980.5 420.1h0M980.6 431.3h0M980.7 416.0h0M980.8 426.1h0M980.8 426.8h0M980.9 416.1h0M981.0 416.3h0M981.1 441.4h0M981.2 440.2h0M981.2 438.2h0M981.3 418.7h0M981.4 421.6h0M981.5 415.8h0M981.5 415.8h0M981.6 416.7h0M981.7 417.8h0M981.8 415.7h0M981.8 416.1h0M981.9 429.7h0M982.0 421.7h0M982.1 416.1h0M982.1 440.5h0M982.2 416.7h0M982.3 427.4h0M982.4 416.2h0M982.5 435.9h0M982.5 431.1h0M982.6 441.3h0M982.7 430.6h0M982.8 417.8h0M982.8 440.0h0M982.9 431.6h0M983.0 425.6h0M983.1 425.3h0M983.1 417.3h0M983.2 431.5h0M983.3 440.5h0M983.4 440.2h0M983.4 438.6h0M983.5 440.1h0M983.6 441.2h0M983.7 421.1h0M983.8 441.1h0M983.8 436.6h0M983.9 416.3h0M984.0 432.5h0M984.1 415.8h0M984.1 430.1h0M984.2 439.0h0M984.3 425.1h0M984.4 431.9h0M984.4 440.5h0M984.5 415.4h0M984.6 415.4h0M984.7 419.3h0M984.7 422.1h0M984.8 441.3h0M984.9 440.5h0M985.0 440.4h0M985.1 428.6h0M985.1 414.7h0M985.2 415.0h0M985.3 417.3h0M985.4 428.3h0M985.4 420.6h0M985.5 427.8h0M985.6 438.8h0M985.7 418.3h0M985.7 418.7h0M985.8 413.9h0M985.9 441.1h0M986.0 414.6h0M986.0 431.1h0M986.1 440.2h0M986.2 414.9h0M986.3 414.3h0M986.4 440.7h0M986.4 415.8h0M986.5 415.7h0M986.6 423.5h0M986.7 440.9h0M986.7 440.9h0M986.8 418.4h0M986.9 413.8h0M987.0 413.6h0M987.0 426.0h0M987.1 413.3h0M987.2 413.1h0M987.3 433.2h0M987.3 413.2h0M987.4 417.4h0M987.5 422.4h0M987.6 438.3h0M987.6 413.6h0M987.7 423.1h0M987.8 424.5h0M987.9 427.5h0M988.0 413.2h0M988.0 429.5h0M988.1 413.6h0M988.2 421.2h0M988.3 412.4h0M988.3 438.6h0M988.4 478.3h0M988.5 439.3h0M988.6 422.7h0M988.6 420.5h0M988.7 441.4h0M988.8 424.5h0M988.9 433.6h0M988.9 440.0h0M989.0 423.9h0M989.1 415.0h0M989.2 419.5h0M989.3 441.1h0M989.3 436.9h0M989.4 440.4h0M989.5 459.2h0M989.6 418.4h0M989.6 413.1h0M989.7 417.4h0M989.8 415.3h0M989.9 421.9h0M989.9 414.2h0M990.0 412.9h0M990.1 418.3h0M990.2 440.7h0M990.2 423.6h0M990.3 416.8h0M990.4 441.2h0" stroke="#b00000" stroke-width="6.4" stroke-linecap="round" fill="none"/>
<path d="M925.3 295.6L925.4 293.2L925.5 317.9L925.5 332.5L925.6 293.1L925.7 297.1L925.8 293.9L925.8 293.2L925.9 290.9L926.0 304.4L926.1 295.7L926.1 294.0L926.2 291.3L926.3 292.9L926.4 316.0L926.4 289.2L926.5 289.1L926.6 296.1L926.7 303.1L926.8 316.7L926.8 309.5L926.9 292.5L927.0 288.7L927.1 296.2L927.1 293.2L927.2 304.5L927.3 290.1L927.4 291.6L927.4 293.0L927.5 309.1L927.6 296.8L927.7 310.5L927.7 292.3L927.8 306.8L927.9 293.9L928.0 304.3L928.1 307.6L928.1 299.3L928.2 289.9L928.3 290.9L928.4 316.0L928.4 296.1L928.5 291.7L928.6 294.8L928.7 298.4L928.7 295.7L928.8 293.8L928.9 293.8L929.0 292.1L929.0 297.1L929.1 292.8L929.2 289.5L929.3 289.3L929.3 290.7L929.4 291.2L929.5 294.3L929.6 295.7L929.7 295.9L929.7 295.4L929.8 288.9L929.9 288.8L930.0 291.1L930.0 323.3L930.1 289.9L930.2 290.2L930.3 293.6L930.3 293.8L930.4 291.2L930.5 292.0L930.6 295.3L930.6 295.8L930.7 291.9L930.8 294.6L930.9 293.4L931.0 295.1L931.0 293.8L931.1 295.7L931.2 289.7L931.3 291.4L931.3 296.6L931.4 288.9L931.5 292.9L931.6 293.2L931.6 321.1L931.7 305.9L931.8 297.5L931.9 291.6L931.9 295.8L932.0 291.1L932.1 290.1L932.2 304.3L932.3 288.8L932.3 294.9L932.4 296.8L932.5 291.7L932.6 289.2L932.6 293.6L932.7 295.5L932.8 295.4L932.9 303.3L932.9 295.9L933.0 297.9L933.1 295.0L933.2 290.6L933.2 317.2L933.3 297.2L933.4 291.3L933.5 290.1L933.6 317.2L933.6 291.7L933.7 293.9L933.8 292.8L933.9 293.0L933.9 294.8L934.0 295.3L934.1 296.9L934.2 291.0L934.2 291.7L934.3 291.4L934.4 294.2L934.5 289.9L934.5 294.9L934.6 289.2L934.7 291.5L934.8 299.5L934.9 295.5L934.9 296.6L935.0 289.9L935.1 295.3L935.2 323.5L935.2 296.3L935.3 290.8L935.4 322.8L935.5 294.0L935.5 290.1L935.6 291.2L935.7 291.6L935.8 294.6L935.8 292.3L935.9 295.6L936.0 289.7L936.1 294.0L936.1 293.0L936.2 296.4L936.3 312.9L936.4 304.8L936.5 298.6L936.5 314.1L936.6 289.0L936.7 290.6L936.8 293.2L936.8 294.2L936.9 293.4L937.0 294.3L937.1 293.4L937.1 295.3L937.2 294.8L937.3 292.1L937.4 303.3L937.4 295.4L937.5 293.9L937.6 290.9L937.7 314.2L937.8 289.4L937.8 289.3L937.9 319.0L938.0 292.9L938.1 306.1L938.1 291.9L938.2 292.7L938.3 315.2L938.4 292.9L938.4 291.2L938.5 306.2L938.6 314.3L938.7 287.8L938.7 303.8L938.8 289.6L938.9 295.0L939.0 291.1L939.1 290.2L939.1 303.7L939.2 290.3L939.3 289.5L939.4 288.5L939.4 295.7L939.5 287.5L939.6 293.6L939.7 292.2L939.7 287.7L939.8 315.8L939.9 311.0L940.0 290.1L940.0 288.1L940.1 287.6L940.2 287.4L940.3 296.4L940.4 287.0L940.4 312.0L940.5 288.6L940.6 287.9L940.7 290.9L940.7 292.8L940.8 291.9L940.9 286.4L941.0 296.9L941.0 287.1L941.1 288.1L941.2 289.6L941.3 286.4L941.3 293.2L941.4 293.9L941.5 288.3L941.6 294.1L941.7 294.7L941.7 287.4L941.8 293.4L941.9 287.8L942.0 291.7L942.0 291.2L942.1 291.4L942.2 308.0L942.3 289.8L942.3 296.2L942.4 285.9L942.5 285.7L942.6 288.8L942.6 303.9L942.7 287.5L942.8 286.9L942.9 293.4L943.0 285.0L943.0 290.3L943.1 285.2L943.2 287.3L943.3 292.7L943.3 286.8L943.4 292.8L943.5 304.9L943.6 288.9L943.6 285.6L943.7 285.6L943.8 288.8L943.9 288.1L943.9 289.5L944.0 288.3L944.1 286.8L944.2 285.1L944.2 288.4L944.3 294.6L944.4 296.4L944.5 293.3L944.6 292.9L944.6 291.4L944.7 288.8L944.8 290.4L944.9 288.8L944.9 287.6L945.0 314.1L945.1 287.3L945.2 286.8L945.2 304.4L945.3 287.2L945.4 308.0L945.5 291.3L945.5 293.5L945.6 285.5L945.7 291.2L945.8 288.0L945.9 289.1L945.9 297.2L946.0 289.0L946.1 293.2L946.2 285.2L946.2 291.9L946.3 288.3L946.4 290.9L946.5 294.3L946.5 292.2L946.6 287.4L946.7 301.5L946.8 290.0L946.8 291.6L946.9 287.1L947.0 291.1L947.1 289.9L947.2 287.0L947.2 289.7L947.3 292.0L947.4 308.3L947.5 304.8L947.5 320.5L947.6 335.0L947.7 300.3L947.8 300.0L947.8 292.8L947.9 285.7L948.0 310.6L948.1 289.6L948.1 288.2L948.2 286.5L948.3 287.4L948.4 289.0L948.5 288.7L948.5 292.7L948.6 287.8L948.7 294.8L948.8 293.5L948.8 288.5L948.9 291.5L949.0 308.9L949.1 285.6L949.1 287.6L949.2 293.6L949.3 300.0L949.4 286.5L949.4 286.4L949.5 286.5L949.6 293.3L949.7 302.5L949.8 292.4L949.8 290.7L949.9 293.8L950.0 291.2L950.1 288.3L950.1 286.5L950.2 293.7L950.3 286.7L950.4 291.1L950.4 292.4L950.5 293.9L950.6 288.0L950.7 286.7L950.7 287.0L950.8 294.7L950.9 285.4L951.0 290.7L951.0 291.2L951.1 295.8L951.2 291.3L951.3 285.7L951.4 288.3L951.4 288.1L951.5 285.6L951.6 292.5L951.7 291.2L951.7 296.3L951.8 287.5L951.9 293.0L952.0 291.4L952.0 285.7L952.1 288.3L952.2 286.3L952.3 287.2L952.3 291.4L952.4 287.9L952.5 293.3L952.6 285.6L952.7 294.8L952.7 285.2L952.8 301.2L952.9 292.0L953.0 310.3L953.0 286.2L953.1 293.6L953.2 299.2L953.3 290.4L953.3 293.4L953.4 295.8L953.5 288.8L953.6 289.3L953.6 303.8L953.7 288.6L953.8 290.8L953.9 308.9L954.0 289.0L954.0 286.7L954.1 294.7L954.2 296.4L954.3 306.3L954.3 286.7L954.4 287.8L954.5 294.0L954.6 291.4L954.6 287.2L954.7 292.1L954.8 293.8L954.9 288.7L954.9 293.0L955.0 289.3L955.1 302.2L955.2 295.6L955.3 297.9L955.3 296.1L955.4 290.1L955.5 294.4L955.6 297.7L955.6 295.7L955.7 293.9L955.8 305.3L955.9 296.3L955.9 306.4L956.0 300.9L956.1 291.2L956.2 295.4L956.2 294.2L956.3 293.5L956.4 291.0L956.5 290.6L956.6 293.5L956.6 294.2L956.7 309.8L956.8 298.0L956.9 293.6L956.9 304.0L957.0 294.2L957.1 298.8L957.2 293.9L957.2 294.4L957.3 288.8L957.4 294.6L957.5 288.3L957.5 314.1L957.6 290.6L957.7 291.4L957.8 298.4L957.8 300.3L957.9 288.7L958.0 293.1L958.1 310.6L958.2 290.5L958.2 296.9L958.3 288.5L958.4 292.2L958.5 310.6L958.5 290.5L958.6 293.3L958.7 299.5L958.8 289.5L958.8 292.0L958.9 310.4L959.0 293.9L959.1 288.6L959.1 296.9L959.2 289.3L959.3 314.9L959.4 291.7L959.5 295.3L959.5 294.8L959.6 292.9L959.7 296.7L959.8 290.6L959.8 292.9L959.9 311.9L960.0 289.7L960.1 294.2L960.1 297.0L960.2 307.9L960.3 321.5L960.4 293.0L960.4 296.2L960.5 289.4L960.6 306.7L960.7 296.8L960.8 299.8L960.8 288.1L960.9 296.1L961.0 291.0L961.1 296.4L961.1 291.9L961.2 293.5L961.3 290.4L961.4 293.8L961.4 293.7L961.5 339.5L961.6 289.3L961.7 290.7L961.7 293.4L961.8 292.5L961.9 296.4L962.0 295.9L962.1 290.5L962.1 289.1L962.2 291.2L962.3 307.6L962.4 292.1L962.4 293.1L962.5 295.9L962.6 291.6L962.7 288.8L962.7 319.4L962.8 292.2L962.9 289.8L963.0 291.3L963.0 296.0L963.1 296.8L963.2 294.7L963.3 294.3L963.4 318.5L963.4 294.5L963.5 302.1L963.6 289.0L963.7 291.5L963.7 297.5L963.8 316.8L963.9 290.5L964.0 275.0L964.0 295.9L964.1 294.0L964.2 288.2L964.3 291.9L964.3 291.7L964.4 289.5L964.5 272.5L964.6 289.6L964.7 306.4L964.7 314.5L964.8 290.8L964.9 296.8L965.0 296.5L965.0 291.4L965.1 300.9L965.2 277.0L965.3 294.5L965.3 317.4L965.4 289.1L965.5 297.1L965.6 296.7L965.6 290.8L965.7 296.1L965.8 273.5L965.9 290.0L965.9 289.0L966.0 296.0L966.1 294.2L966.2 300.7L966.3 289.0L966.3 291.2L966.4 293.8L966.5 290.5L966.6 295.5L966.6 311.4L966.7 309.7L966.8 288.3L966.9 300.3L966.9 292.0L967.0 294.3L967.1 291.8L967.2 306.8L967.2 316.7L967.3 292.5L967.4 290.1L967.5 291.0L967.6 304.0L967.6 299.6L967.7 296.1L967.8 289.1L967.9 290.8L967.9 290.9L968.0 289.6L968.1 296.6L968.2 320.2L968.2 289.6L968.3 289.6L968.4 295.2L968.5 291.0L968.5 291.7L968.6 294.2L968.7 296.3L968.8 288.7L968.9 289.8L968.9 297.2L969.0 294.7L969.1 293.7L969.2 300.9L969.2 305.1L969.3 289.5L969.4 292.3L969.5 293.8L969.5 294.4L969.6 293.4L969.7 291.4L969.8 288.2L969.8 290.4L969.9 289.0L970.0 296.4L970.1 296.6L970.2 293.3L970.2 296.3L970.3 309.4L970.4 292.2L970.5 294.9L970.5 290.9L970.6 296.6L970.7 298.5L970.8 295.5L970.8 294.6L970.9 294.3L971.0 305.7L971.1 290.2L971.1 291.3L971.2 291.9L971.3 292.0L971.4 290.6L971.5 293.0L971.5 292.8L971.6 290.2L971.7 289.7L971.8 296.4L971.8 293.2L971.9 288.2L972.0 292.3L972.1 308.9L972.1 292.2L972.2 289.7L972.3 299.5L972.4 309.1L972.4 295.3L972.5 288.7L972.6 287.3L972.7 287.8L972.7 295.5L972.8 289.9L972.9 291.2L973.0 309.8L973.1 306.2L973.1 288.1L973.2 289.8L973.3 304.3L973.4 292.0L973.4 287.8L973.5 291.8L973.6 298.3L973.7 288.7L973.7 289.2L973.8 291.2L973.9 298.7L974.0 287.5L974.0 304.7L974.1 291.9L974.2 289.3L974.3 287.3L974.4 290.5L974.4 286.3L974.5 284.0L974.6 294.5L974.7 281.5L974.7 293.6L974.8 308.3L974.9 290.0L975.0 284.1L975.0 290.5L975.1 293.7L975.2 296.1L975.3 286.0L975.3 294.3L975.4 284.6L975.5 276.8L975.6 298.8L975.7 278.5L975.7 273.7L975.8 308.9L975.9 273.3L976.0 295.8L976.0 280.4L976.1 280.4L976.2 287.9L976.3 273.4L976.3 303.4L976.4 275.0L976.5 306.3L976.6 287.6L976.6 282.1L976.7 284.1L976.8 288.3L976.9 275.4L977.0 277.1L977.0 293.9L977.1 278.4L977.2 277.6L977.3 291.5L977.3 277.4L977.4 290.8L977.5 287.0L977.6 301.9L977.6 272.8L977.7 276.2L977.8 284.1L977.9 290.9L977.9 302.5L978.0 287.7L978.1 282.0L978.2 286.7L978.3 273.6L978.3 284.6L978.4 293.2L978.5 289.2L978.6 272.6L978.6 275.2L978.7 290.1L978.8 275.9L978.9 304.8L978.9 291.5L979.0 284.9L979.1 299.3L979.2 280.9L979.2 289.6L979.3 272.8L979.4 290.8L979.5 343.5L979.5 289.9L979.6 286.4L979.7 307.6L979.8 286.9L979.9 288.5L979.9 272.5L980.0 305.5L980.1 288.9L980.2 287.5L980.2 285.2L980.3 290.4L980.4 274.7L980.5 292.3L980.5 287.9L980.6 290.5L980.7 291.6L980.8 295.6L980.8 281.8L980.9 276.6L981.0 285.3L981.1 284.7L981.2 276.4L981.2 296.4L981.3 274.2L981.4 284.9L981.5 278.5L981.5 287.7L981.6 278.4L981.7 295.9L981.8 283.4L981.8 281.3L981.9 281.0L982.0 300.4L982.1 298.6L982.1 290.9L982.2 278.6L982.3 280.6L982.4 295.7L982.5 288.4L982.5 287.5L982.6 276.4L982.7 280.4L982.8 286.5L982.8 273.3L982.9 276.4L983.0 274.6L983.1 301.8L983.1 284.4L983.2 301.0L983.3 290.9L983.4 300.6L983.4 274.1L983.5 283.5L983.6 281.2L983.7 288.0L983.8 292.0L983.8 289.4L983.9 286.0L984.0 285.9L984.1 281.1L984.1 275.5L984.2 291.9L984.3 274.6L984.4 308.5L984.4 292.4L984.5 275.2L984.6 283.9L984.7 291.5L984.7 295.6L984.8 277.4L984.9 272.6L985.0 273.0L985.1 291.0L985.1 307.7L985.2 277.6L985.3 305.3L985.4 287.3L985.4 288.2L985.5 308.3L985.6 294.4L985.7 304.3L985.7 272.7L985.8 274.2L985.9 277.0L986.0 272.5L986.0 292.3L986.1 282.0L986.2 288.8L986.3 281.8L986.4 272.9L986.4 282.1L986.5 304.0L986.6 286.4L986.7 286.2L986.7 285.6L986.8 275.9L986.9 278.9L987.0 280.8L987.0 283.8L987.1 294.0L987.2 275.3L987.3 301.0L987.3 280.8L987.4 288.2L987.5 277.2L987.6 304.9L987.6 281.7L987.7 291.4L987.8 298.6L987.9 290.3L988.0 274.4L988.0 368.0L988.1 281.6L988.2 285.1L988.3 277.5L988.3 291.6L988.4 291.7L988.5 277.8L988.6 289.4L988.6 279.9L988.7 290.8L988.8 275.4L988.9 288.0L988.9 276.3L989.0 280.1L989.1 289.0L989.2 274.0L989.3 278.5L989.3 291.0L989.4 286.6L989.5 341.5L989.6 304.6L989.6 277.1L989.7 272.6L989.8 284.4L989.9 288.0L989.9 278.1L990.0 274.1L990.1 284.0L990.2 293.7L990.2 279.0L990.3 290.3L990.4 295.4" stroke="#00008b" stroke-width="0.7" stroke-opacity="0.13" fill="none"/>
<path d="M925.3 295.6h0M925.4 293.2h0M925.5 317.9h0M925.5 332.5h0M925.6 293.1h0M925.7 297.1h0M925.8 293.9h0M925.8 293.2h0M925.9 290.9h0M926.0 304.4h0M926.1 295.7h0M926.1 294.0h0M926.2 291.3h0M926.3 292.9h0M926.4 316.0h0M926.4 289.2h0M926.5 289.1h0M926.6 296.1h0M926.7 303.1h0M926.8 316.7h0M926.8 309.5h0M926.9 292.5h0M927.0 288.7h0M927.1 296.2h0M927.1 293.2h0M927.2 304.5h0M927.3 290.1h0M927.4 291.6h0M927.4 293.0h0M927.5 309.1h0M927.6 296.8h0M927.7 310.5h0M927.7 292.3h0M927.8 306.8h0M927.9 293.9h0M928.0 304.3h0M928.1 307.6h0M928.1 299.3h0M928.2 289.9h0M928.3 290.9h0M928.4 316.0h0M928.4 296.1h0M928.5 291.7h0M928.6 294.8h0M928.7 298.4h0M928.7 295.7h0M928.8 293.8h0M928.9 293.8h0M929.0 292.1h0M929.0 297.1h0M929.1 292.8h0M929.2 289.5h0M929.3 289.3h0M929.3 290.7h0M929.4 291.2h0M929.5 294.3h0M929.6 295.7h0M929.7 295.9h0M929.7 295.4h0M929.8 288.9h0M929.9 288.8h0M930.0 291.1h0M930.0 323.3h0M930.1 289.9h0M930.2 290.2h0M930.3 293.6h0M930.3 293.8h0M930.4 291.2h0M930.5 292.0h0M930.6 295.3h0M930.6 295.8h0M930.7 291.9h0M930.8 294.6h0M930.9 293.4h0M931.0 295.1h0M931.0 293.8h0M931.1 295.7h0M931.2 289.7h0M931.3 291.4h0M931.3 296.6h0M931.4 288.9h0M931.5 292.9h0M931.6 293.2h0M931.6 321.1h0M931.7 305.9h0M931.8 297.5h0M931.9 291.6h0M931.9 295.8h0M932.0 291.1h0M932.1 290.1h0M932.2 304.3h0M932.3 288.8h0M932.3 294.9h0M932.4 296.8h0M932.5 291.7h0M932.6 289.2h0M932.6 293.6h0M932.7 295.5h0M932.8 295.4h0M932.9 303.3h0M932.9 295.9h0M933.0 297.9h0M933.1 295.0h0M933.2 290.6h0M933.2 317.2h0M933.3 297.2h0M933.4 291.3h0M933.5 290.1h0M933.6 317.2h0M933.6 291.7h0M933.7 293.9h0M933.8 292.8h0M933.9 293.0h0M933.9 294.8h0M934.0 295.3h0M934.1 296.9h0M934.2 291.0h0M934.2 291.7h0M934.3 291.4h0M934.4 294.2h0M934.5 289.9h0M934.5 294.9h0M934.6 289.2h0M934.7 291.5h0M934.8 299.5h0M934.9 295.5h0M934.9 296.6h0M935.0 289.9h0M935.1 295.3h0M935.2 323.5h0M935.2 296.3h0M935.3 290.8h0M935.4 322.8h0M935.5 294.0h0M935.5 290.1h0M935.6 291.2h0M935.7 291.6h0M935.8 294.6h0M935.8 292.3h0M935.9 295.6h0M936.0 289.7h0M936.1 294.0h0M936.1 293.0h0M936.2 296.4h0M936.3 312.9h0M936.4 304.8h0M936.5 298.6h0M936.5 314.1h0M936.6 289.0h0M936.7 290.6h0M936.8 293.2h0M936.8 294.2h0M936.9 293.4h0M937.0 294.3h0M937.1 293.4h0M937.1 295.3h0M937.2 294.8h0M937.3 292.1h0M937.4 303.3h0M937.4 295.4h0M937.5 293.9h0M937.6 290.9h0M937.7 314.2h0M937.8 289.4h0M937.8 289.3h0M937.9 319.0h0M938.0 292.9h0M938.1 306.1h0M938.1 291.9h0M938.2 292.7h0M938.3 315.2h0M938.4 292.9h0M938.4 291.2h0M938.5 306.2h0M938.6 314.3h0M938.7 287.8h0M938.7 303.8h0M938.8 289.6h0M938.9 295.0h0M939.0 291.1h0M939.1 290.2h0M939.1 303.7h0M939.2 290.3h0M939.3 289.5h0M939.4 288.5h0M939.4 295.7h0M939.5 287.5h0M939.6 293.6h0M939.7 292.2h0M939.7 287.7h0M939.8 315.8h0M939.9 311.0h0M940.0 290.1h0M940.0 288.1h0M940.1 287.6h0M940.2 287.4h0M940.3 296.4h0M940.4 287.0h0M940.4 312.0h0M940.5 288.6h0M940.6 287.9h0M940.7 290.9h0M940.7 292.8h0M940.8 291.9h0M940.9 286.4h0M941.0 296.9h0M941.0 287.1h0M941.1 288.1h0M941.2 289.6h0M941.3 286.4h0M941.3 293.2h0M941.4 293.9h0M941.5 288.3h0M941.6 294.1h0M941.7 294.7h0M941.7 287.4h0M941.8 293.4h0M941.9 287.8h0M942.0 291.7h0M942.0 291.2h0M942.1 291.4h0M942.2 308.0h0M942.3 289.8h0M942.3 296.2h0M942.4 285.9h0M942.5 285.7h0M942.6 288.8h0M942.6 303.9h0M942.7 287.5h0M942.8 286.9h0M942.9 293.4h0M943.0 285.0h0M943.0 290.3h0M943.1 285.2h0M943.2 287.3h0M943.3 292.7h0M943.3 286.8h0M943.4 292.8h0M943.5 304.9h0M943.6 288.9h0M943.6 285.6h0M943.7 285.6h0M943.8 288.8h0M943.9 288.1h0M943.9 289.5h0M944.0 288.3h0M944.1 286.8h0M944.2 285.1h0M944.2 288.4h0M944.3 294.6h0M944.4 296.4h0M944.5 293.3h0M944.6 292.9h0M944.6 291.4h0M944.7 288.8h0M944.8 290.4h0M944.9 288.8h0M944.9 287.6h0M945.0 314.1h0M945.1 287.3h0M945.2 286.8h0M945.2 304.4h0M945.3 287.2h0M945.4 308.0h0M945.5 291.3h0M945.5 293.5h0M945.6 285.5h0M945.7 291.2h0M945.8 288.0h0M945.9 289.1h0M945.9 297.2h0M946.0 289.0h0M946.1 293.2h0M946.2 285.2h0M946.2 291.9h0M946.3 288.3h0M946.4 290.9h0M946.5 294.3h0M946.5 292.2h0M946.6 287.4h0M946.7 301.5h0M946.8 290.0h0M946.8 291.6h0M946.9 287.1h0M947.0 291.1h0M947.1 289.9h0M947.2 287.0h0M947.2 289.7h0M947.3 292.0h0M947.4 308.3h0M947.5 304.8h0M947.5 320.5h0M947.6 335.0h0M947.7 300.3h0M947.8 300.0h0M947.8 292.8h0M947.9 285.7h0M948.0 310.6h0M948.1 289.6h0M948.1 288.2h0M948.2 286.5h0M948.3 287.4h0M948.4 289.0h0M948.5 288.7h0M948.5 292.7h0M948.6 287.8h0M948.7 294.8h0M948.8 293.5h0M948.8 288.5h0M948.9 291.5h0M949.0 308.9h0M949.1 285.6h0M949.1 287.6h0M949.2 293.6h0M949.3 300.0h0M949.4 286.5h0M949.4 286.4h0M949.5 286.5h0M949.6 293.3h0M949.7 302.5h0M949.8 292.4h0M949.8 290.7h0M949.9 293.8h0M950.0 291.2h0M950.1 288.3h0M950.1 286.5h0M950.2 293.7h0M950.3 286.7h0M950.4 291.1h0M950.4 292.4h0M950.5 293.9h0M950.6 288.0h0M950.7 286.7h0M950.7 287.0h0M950.8 294.7h0M950.9 285.4h0M951.0 290.7h0M951.0 291.2h0M951.1 295.8h0M951.2 291.3h0M951.3 285.7h0M951.4 288.3h0M951.4 288.1h0M951.5 285.6h0M951.6 292.5h0M951.7 291.2h0M951.7 296.3h0M951.8 287.5h0M951.9 293.0h0M952.0 291.4h0M952.0 285.7h0M952.1 288.3h0M952.2 286.3h0M952.3 287.2h0M952.3 291.4h0M952.4 287.9h0M952.5 293.3h0M952.6 285.6h0M952.7 294.8h0M952.7 285.2h0M952.8 301.2h0M952.9 292.0h0M953.0 310.3h0M953.0 286.2h0M953.1 293.6h0M953.2 299.2h0M953.3 290.4h0M953.3 293.4h0M953.4 295.8h0M953.5 288.8h0M953.6 289.3h0M953.6 303.8h0M953.7 288.6h0M953.8 290.8h0M953.9 308.9h0M954.0 289.0h0M954.0 286.7h0M954.1 294.7h0M954.2 296.4h0M954.3 306.3h0M954.3 286.7h0M954.4 287.8h0M954.5 294.0h0M954.6 291.4h0M954.6 287.2h0M954.7 292.1h0M954.8 293.8h0M954.9 288.7h0M954.9 293.0h0M955.0 289.3h0M955.1 302.2h0M955.2 295.6h0M955.3 297.9h0M955.3 296.1h0M955.4 290.1h0M955.5 294.4h0M955.6 297.7h0M955.6 295.7h0M955.7 293.9h0M955.8 305.3h0M955.9 296.3h0M955.9 306.4h0M956.0 300.9h0M956.1 291.2h0M956.2 295.4h0M956.2 294.2h0M956.3 293.5h0M956.4 291.0h0M956.5 290.6h0M956.6 293.5h0M956.6 294.2h0M956.7 309.8h0M956.8 298.0h0M956.9 293.6h0M956.9 304.0h0M957.0 294.2h0M957.1 298.8h0M957.2 293.9h0M957.2 294.4h0M957.3 288.8h0M957.4 294.6h0M957.5 288.3h0M957.5 314.1h0M957.6 290.6h0M957.7 291.4h0M957.8 298.4h0M957.8 300.3h0M957.9 288.7h0M958.0 293.1h0M958.1 310.6h0M958.2 290.5h0M958.2 296.9h0M958.3 288.5h0M958.4 292.2h0M958.5 310.6h0M958.5 290.5h0M958.6 293.3h0M958.7 299.5h0M958.8 289.5h0M958.8 292.0h0M958.9 310.4h0M959.0 293.9h0M959.1 288.6h0M959.1 296.9h0M959.2 289.3h0M959.3 314.9h0M959.4 291.7h0M959.5 295.3h0M959.5 294.8h0M959.6 292.9h0M959.7 296.7h0M959.8 290.6h0M959.8 292.9h0M959.9 311.9h0M960.0 289.7h0M960.1 294.2h0M960.1 297.0h0M960.2 307.9h0M960.3 321.5h0M960.4 293.0h0M960.4 296.2h0M960.5 289.4h0M960.6 306.7h0M960.7 296.8h0M960.8 299.8h0M960.8 288.1h0M960.9 296.1h0M961.0 291.0h0M961.1 296.4h0M961.1 291.9h0M961.2 293.5h0M961.3 290.4h0M961.4 293.8h0M961.4 293.7h0M961.5 339.5h0M961.6 289.3h0M961.7 290.7h0M961.7 293.4h0M961.8 292.5h0M961.9 296.4h0M962.0 295.9h0M962.1 290.5h0M962.1 289.1h0M962.2 291.2h0M962.3 307.6h0M962.4 292.1h0M962.4 293.1h0M962.5 295.9h0M962.6 291.6h0M962.7 288.8h0M962.7 319.4h0M962.8 292.2h0M962.9 289.8h0M963.0 291.3h0M963.0 296.0h0M963.1 296.8h0M963.2 294.7h0M963.3 294.3h0M963.4 318.5h0M963.4 294.5h0M963.5 302.1h0M963.6 289.0h0M963.7 291.5h0M963.7 297.5h0M963.8 316.8h0M963.9 290.5h0M964.0 275.0h0M964.0 295.9h0M964.1 294.0h0M964.2 288.2h0M964.3 291.9h0M964.3 291.7h0M964.4 289.5h0M964.5 272.5h0M964.6 289.6h0M964.7 306.4h0M964.7 314.5h0M964.8 290.8h0M964.9 296.8h0M965.0 296.5h0M965.0 291.4h0M965.1 300.9h0M965.2 277.0h0M965.3 294.5h0M965.3 317.4h0M965.4 289.1h0M965.5 297.1h0M965.6 296.7h0M965.6 290.8h0M965.7 296.1h0M965.8 273.5h0M965.9 290.0h0M965.9 289.0h0M966.0 296.0h0M966.1 294.2h0M966.2 300.7h0M966.3 289.0h0M966.3 291.2h0M966.4 293.8h0M966.5 290.5h0M966.6 295.5h0M966.6 311.4h0M966.7 309.7h0M966.8 288.3h0M966.9 300.3h0M966.9 292.0h0M967.0 294.3h0M967.1 291.8h0M967.2 306.8h0M967.2 316.7h0M967.3 292.5h0M967.4 290.1h0M967.5 291.0h0M967.6 304.0h0M967.6 299.6h0M967.7 296.1h0M967.8 289.1h0M967.9 290.8h0M967.9 290.9h0M968.0 289.6h0M968.1 296.6h0M968.2 320.2h0M968.2 289.6h0M968.3 289.6h0M968.4 295.2h0M968.5 291.0h0M968.5 291.7h0M968.6 294.2h0M968.7 296.3h0M968.8 288.7h0M968.9 289.8h0M968.9 297.2h0M969.0 294.7h0M969.1 293.7h0M969.2 300.9h0M969.2 305.1h0M969.3 289.5h0M969.4 292.3h0M969.5 293.8h0M969.5 294.4h0M969.6 293.4h0M969.7 291.4h0M969.8 288.2h0M969.8 290.4h0M969.9 289.0h0M970.0 296.4h0M970.1 296.6h0M970.2 293.3h0M970.2 296.3h0M970.3 309.4h0M970.4 292.2h0M970.5 294.9h0M970.5 290.9h0M970.6 296.6h0M970.7 298.5h0M970.8 295.5h0M970.8 294.6h0M970.9 294.3h0M971.0 305.7h0M971.1 290.2h0M971.1 291.3h0M971.2 291.9h0M971.3 292.0h0M971.4 290.6h0M971.5 293.0h0M971.5 292.8h0M971.6 290.2h0M971.7 289.7h0M971.8 296.4h0M971.8 293.2h0M971.9 288.2h0M972.0 292.3h0M972.1 308.9h0M972.1 292.2h0M972.2 289.7h0M972.3 299.5h0M972.4 309.1h0M972.4 295.3h0M972.5 288.7h0M972.6 287.3h0M972.7 287.8h0M972.7 295.5h0M972.8 289.9h0M972.9 291.2h0M973.0 309.8h0M973.1 306.2h0M973.1 288.1h0M973.2 289.8h0M973.3 304.3h0M973.4 292.0h0M973.4 287.8h0M973.5 291.8h0M973.6 298.3h0M973.7 288.7h0M973.7 289.2h0M973.8 291.2h0M973.9 298.7h0M974.0 287.5h0M974.0 304.7h0M974.1 291.9h0M974.2 289.3h0M974.3 287.3h0M974.4 290.5h0M974.4 286.3h0M974.5 284.0h0M974.6 294.5h0M974.7 281.5h0M974.7 293.6h0M974.8 308.3h0M974.9 290.0h0M975.0 284.1h0M975.0 290.5h0M975.1 293.7h0M975.2 296.1h0M975.3 286.0h0M975.3 294.3h0M975.4 284.6h0M975.5 276.8h0M975.6 298.8h0M975.7 278.5h0M975.7 273.7h0M975.8 308.9h0M975.9 273.3h0M976.0 295.8h0M976.0 280.4h0M976.1 280.4h0M976.2 287.9h0M976.3 273.4h0M976.3 303.4h0M976.4 275.0h0M976.5 306.3h0M976.6 287.6h0M976.6 282.1h0M976.7 284.1h0M976.8 288.3h0M976.9 275.4h0M977.0 277.1h0M977.0 293.9h0M977.1 278.4h0M977.2 277.6h0M977.3 291.5h0M977.3 277.4h0M977.4 290.8h0M977.5 287.0h0M977.6 301.9h0M977.6 272.8h0M977.7 276.2h0M977.8 284.1h0M977.9 290.9h0M977.9 302.5h0M978.0 287.7h0M978.1 282.0h0M978.2 286.7h0M978.3 273.6h0M978.3 284.6h0M978.4 293.2h0M978.5 289.2h0M978.6 272.6h0M978.6 275.2h0M978.7 290.1h0M978.8 275.9h0M978.9 304.8h0M978.9 291.5h0M979.0 284.9h0M979.1 299.3h0M979.2 280.9h0M979.2 289.6h0M979.3 272.8h0M979.4 290.8h0M979.5 343.5h0M979.5 289.9h0M979.6 286.4h0M979.7 307.6h0M979.8 286.9h0M979.9 288.5h0M979.9 272.5h0M980.0 305.5h0M980.1 288.9h0M980.2 287.5h0M980.2 285.2h0M980.3 290.4h0M980.4 274.7h0M980.5 292.3h0M980.5 287.9h0M980.6 290.5h0M980.7 291.6h0M980.8 295.6h0M980.8 281.8h0M980.9 276.6h0M981.0 285.3h0M981.1 284.7h0M981.2 276.4h0M981.2 296.4h0M981.3 274.2h0M981.4 284.9h0M981.5 278.5h0M981.5 287.7h0M981.6 278.4h0M981.7 295.9h0M981.8 283.4h0M981.8 281.3h0M981.9 281.0h0M982.0 300.4h0M982.1 298.6h0M982.1 290.9h0M982.2 278.6h0M982.3 280.6h0M982.4 295.7h0M982.5 288.4h0M982.5 287.5h0M982.6 276.4h0M982.7 280.4h0M982.8 286.5h0M982.8 273.3h0M982.9 276.4h0M983.0 274.6h0M983.1 301.8h0M983.1 284.4h0M983.2 301.0h0M983.3 290.9h0M983.4 300.6h0M983.4 274.1h0M983.5 283.5h0M983.6 281.2h0M983.7 288.0h0M983.8 292.0h0M983.8 289.4h0M983.9 286.0h0M984.0 285.9h0M984.1 281.1h0M984.1 275.5h0M984.2 291.9h0M984.3 274.6h0M984.4 308.5h0M984.4 292.4h0M984.5 275.2h0M984.6 283.9h0M984.7 291.5h0M984.7 295.6h0M984.8 277.4h0M984.9 272.6h0M985.0 273.0h0M985.1 291.0h0M985.1 307.7h0M985.2 277.6h0M985.3 305.3h0M985.4 287.3h0M985.4 288.2h0M985.5 308.3h0M985.6 294.4h0M985.7 304.3h0M985.7 272.7h0M985.8 274.2h0M985.9 277.0h0M986.0 272.5h0M986.0 292.3h0M986.1 282.0h0M986.2 288.8h0M986.3 281.8h0M986.4 272.9h0M986.4 282.1h0M986.5 304.0h0M986.6 286.4h0M986.7 286.2h0M986.7 285.6h0M986.8 275.9h0M986.9 278.9h0M987.0 280.8h0M987.0 283.8h0M987.1 294.0h0M987.2 275.3h0M987.3 301.0h0M987.3 280.8h0M987.4 288.2h0M987.5 277.2h0M987.6 304.9h0M987.6 281.7h0M987.7 291.4h0M987.8 298.6h0M987.9 290.3h0M988.0 274.4h0M988.0 368.0h0M988.1 281.6h0M988.2 285.1h0M988.3 277.5h0M988.3 291.6h0M988.4 291.7h0M988.5 277.8h0M988.6 289.4h0M988.6 279.9h0M988.7 290.8h0M988.8 275.4h0M988.9 288.0h0M988.9 276.3h0M989.0 280.1h0M989.1 289.0h0M989.2 274.0h0M989.3 278.5h0M989.3 291.0h0M989.4 286.6h0M989.5 341.5h0M989.6 304.6h0M989.6 277.1h0M989.7 272.6h0M989.8 284.4h0M989.9 288.0h0M989.9 278.1h0M990.0 274.1h0M990.1 284.0h0M990.2 293.7h0M990.2 279.0h0M990.3 290.3h0M990.4 295.4h0" stroke="#00008b" stroke-width="6.4" stroke-linecap="round" fill="none"/>
<path d="M925.2 118.3H971.5M975.3 118.3H990.4" stroke="#660066" stroke-width="7" stroke-linecap="round" fill="none"/>
<path d="M154.0 124.9H1020.25" stroke="#000" stroke-width="2.1" fill="none"/>
<rect x="154.0" y="111.85" width="866.25" height="391.15" fill="none" stroke="#000" stroke-width="2"/>
<path d="M154.0 150h-9.7M154.0 204h-9.7M154.0 259h-9.7M154.0 314h-9.7M154.0 368h-9.7M154.0 423h-9.7M154.0 478h-9.7M154 503.0v9.8M168 503.0v5.8M182 503.0v5.8M196 503.0v5.8M210 503.0v5.8M224 503.0v5.8M238 503.0v5.8M251 503.0v5.8M265 503.0v9.8M279 503.0v5.8M293 503.0v5.8M307 503.0v5.8M321 503.0v5.8M335 503.0v5.8M349 503.0v5.8M363 503.0v5.8M377 503.0v9.8M391 503.0v5.8M405 503.0v5.8M419 503.0v5.8M433 503.0v5.8M447 503.0v5.8M461 503.0v5.8M474 503.0v5.8M489 503.0v9.8M502 503.0v5.8M516 503.0v5.8M530 503.0v5.8M544 503.0v5.8M558 503.0v5.8M572 503.0v5.8M586 503.0v5.8M600 503.0v9.8M614 503.0v5.8M628 503.0v5.8M642 503.0v5.8M656 503.0v5.8M670 503.0v5.8M684 503.0v5.8M697 503.0v5.8M712 503.0v9.8M725 503.0v5.8M739 503.0v5.8M753 503.0v5.8M767 503.0v5.8M781 503.0v5.8M795 503.0v5.8M809 503.0v5.8M823 503.0v9.8M837 503.0v5.8M851 503.0v5.8M865 503.0v5.8M879 503.0v5.8M892 503.0v5.8M907 503.0v5.8M920 503.0v5.8M935 503.0v9.8M948 503.0v5.8M962 503.0v5.8M976 503.0v5.8M990 503.0v5.8M1004 503.0v5.8M1018 503.0v5.8" stroke="#000" stroke-width="2" fill="none"/>
<g font-size="25" fill="#000">
<text x="134.4" y="159.1" text-anchor="end">35000</text>
<text x="134.4" y="213.8" text-anchor="end">32500</text>
<text x="134.4" y="268.4" text-anchor="end">30000</text>
<text x="134.4" y="323.1" text-anchor="end">27500</text>
<text x="134.4" y="377.8" text-anchor="end">25000</text>
<text x="134.4" y="432.4" text-anchor="end">22500</text>
<text x="134.4" y="487.1" text-anchor="end">20000</text>
<text x="154.8" y="541.1" text-anchor="middle">1996</text>
<text x="265.8" y="541.1" text-anchor="middle">2000</text>
<text x="377.8" y="541.1" text-anchor="middle">2004</text>
<text x="489.8" y="541.1" text-anchor="middle">2008</text>
<text x="600.8" y="541.1" text-anchor="middle">2012</text>
<text x="712.8" y="541.1" text-anchor="middle">2016</text>
<text x="823.8" y="541.1" text-anchor="middle">2020</text>
<text x="935.8" y="541.1" text-anchor="middle">2024</text>
<text x="587" y="576" text-anchor="middle">Year</text>
<text transform="translate(38.5,314.5) rotate(-90)" text-anchor="middle">Max. nr. of Obs.</text>
<text transform="translate(1002.1,203.6) rotate(90) scale(0.775,1)" text-anchor="middle" font-size="24.3">Now</text>
</g>
<text x="587" y="43" text-anchor="middle" font-size="30.67" font-weight="bold">Maximum Number of Observations</text>
<text x="587" y="83" text-anchor="middle" font-size="27.9">CABP00ESP - IGE data node</text>
<rect x="67.6" y="598.3" width="949.6" height="80.2" rx="4.6" ry="4.6" fill="#fff" stroke="#d6d6d6" stroke-width="2.9"/>
<g font-size="25">
<circle cx="90.40" cy="618.50" r="4.25" fill="#fdb50a"/>
<text x="105.0" y="626.3">BDS</text>
<circle cx="90.40" cy="654.50" r="4.25" fill="#339933"/>
<text x="105.0" y="662.3">GAL</text>
<circle cx="237.40" cy="618.50" r="4.25" fill="#b00000"/>
<text x="252.0" y="626.3">GLO</text>
<circle cx="383.60" cy="618.50" r="4.25" fill="#00008b"/>
<text x="398.2" y="626.3">GPS</text>
<circle cx="527.60" cy="618.50" r="4.25" fill="#807dba"/>
<text x="542.2" y="626.3">RINEX2</text>
<circle cx="713.80" cy="618.50" r="4.25" fill="#660066"/>
<text x="728.4" y="626.3">RINEX3</text>
<circle cx="900.50" cy="618.50" r="4.25" fill="#200020"/>
<text x="915.1" y="626.3">RINEX4</text>
</g>
<text x="67" y="709.5" font-size="19.44" font-style="italic">Sat Jan 24 12:24:15 2026</text>
<text x="1001.7" y="709.5" font-size="19.44" font-style="italic" text-anchor="end">©GNSS@ROB</text>
</svg>
</body></html>
